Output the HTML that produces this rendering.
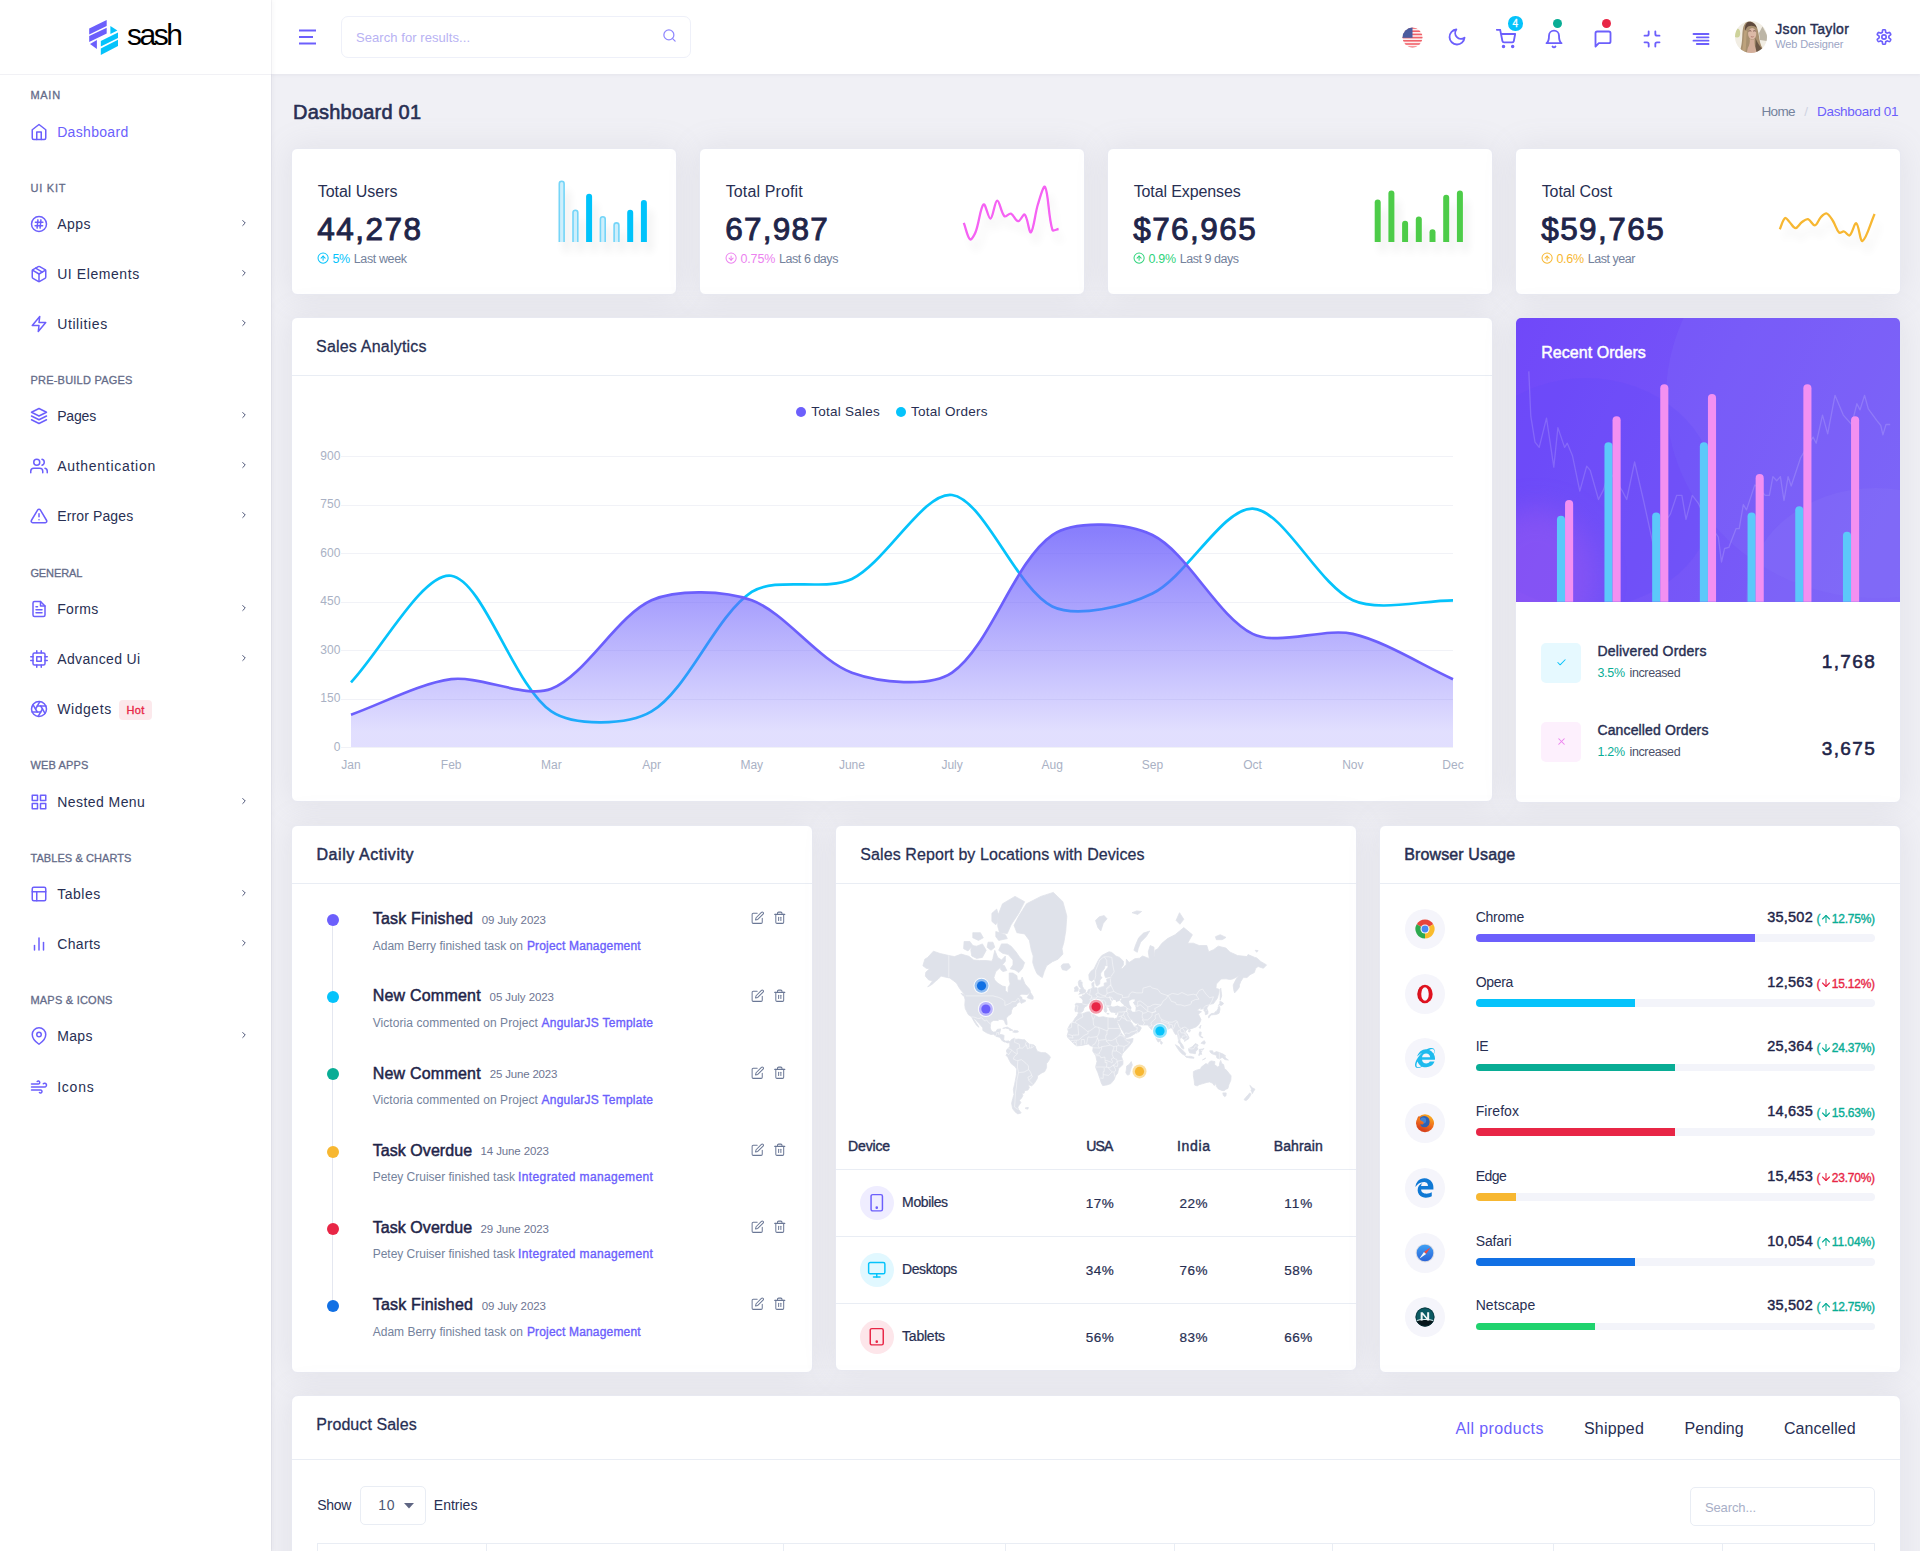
<!DOCTYPE html>
<html lang="en"><head><meta charset="utf-8"><title>Sash – Dashboard 01</title>
<style>
*{box-sizing:border-box;margin:0;padding:0}
html,body{width:1920px;height:1551px;overflow:hidden}
body{font-family:"Liberation Sans",sans-serif;background:#f0f0f5;color:#282f53;position:relative;font-size:14px}
div,svg{position:absolute}
.card{background:#fff;border:1px solid #e8e9f1;border-radius:6px;box-shadow:0 0 32px 0 rgba(140,142,162,.15)}
.hl{background:#e9edf4;height:1px}
#root{left:0;top:0;width:1920px;height:1551px;overflow:hidden;background:#f0f0f5}
</style></head><body><div id="root">

<!-- cards -->
<svg width="0" height="0" style="left:0;top:0"><defs><filter id="ds" x="-30%" y="-30%" width="170%" height="190%"><feGaussianBlur in="SourceAlpha" stdDeviation="4.5"/><feOffset dx="5" dy="10"/><feComponentTransfer><feFuncA type="linear" slope="0.07"/></feComponentTransfer><feMerge><feMergeNode/><feMergeNode in="SourceGraphic"/></feMerge></filter></defs></svg>
<div class="card" style="left:291px;top:148px;width:386px;height:147px;"></div>
<div class="card" style="left:699px;top:148px;width:386px;height:147px;"></div>
<div class="card" style="left:1107px;top:148px;width:386px;height:147px;"></div>
<div class="card" style="left:1515px;top:148px;width:386px;height:147px;"></div>
<div style="left:317.70px;top:181.00px;font-size:16px;line-height:22px;color:#282f53;font-weight:400;white-space:nowrap;letter-spacing:-0.023px;">Total Users</div>
<div style="left:317.20px;top:207.00px;font-size:31.5px;line-height:44px;color:#1f2549;font-weight:400;white-space:nowrap;letter-spacing:1.491px;-webkit-text-stroke:0.94px #1f2549;">44,278</div>
<svg style="position:absolute;left:316.90px;top:252.20px;" width="12.2" height="12.2" viewBox="0 0 24 24" fill="none" stroke="#05c3fb" stroke-width="2" stroke-linecap="round" stroke-linejoin="round"><circle cx="12" cy="12" r="10"/><polyline points="16 12 12 8 8 12"/><line x1="12" y1="16" x2="12" y2="8"/></svg>
<div style="left:332.50px;top:250.00px;font-size:12.5px;line-height:18px;color:#05c3fb;font-weight:400;white-space:nowrap;letter-spacing:-0.562px;">5%</div>
<div style="left:353.80px;top:250.00px;font-size:12.5px;line-height:18px;color:#74829c;font-weight:400;white-space:nowrap;letter-spacing:-0.389px;">Last week</div>
<div style="left:725.70px;top:181.00px;font-size:16px;line-height:22px;color:#282f53;font-weight:400;white-space:nowrap;letter-spacing:0.128px;">Total Profit</div>
<div style="left:725.20px;top:207.00px;font-size:31.5px;line-height:44px;color:#1f2549;font-weight:400;white-space:nowrap;letter-spacing:1.271px;-webkit-text-stroke:0.94px #1f2549;">67,987</div>
<svg style="position:absolute;left:724.90px;top:252.20px;" width="12.2" height="12.2" viewBox="0 0 24 24" fill="none" stroke="#ec82ef" stroke-width="2" stroke-linecap="round" stroke-linejoin="round"><circle cx="12" cy="12" r="10"/><polyline points="8 12 12 16 16 12"/><line x1="12" y1="8" x2="12" y2="16"/></svg>
<div style="left:740.50px;top:250.00px;font-size:12.5px;line-height:18px;color:#ec82ef;font-weight:400;white-space:nowrap;letter-spacing:-0.159px;">0.75%</div>
<div style="left:779.10px;top:250.00px;font-size:12.5px;line-height:18px;color:#74829c;font-weight:400;white-space:nowrap;letter-spacing:-0.462px;">Last 6 days</div>
<div style="left:1133.70px;top:181.00px;font-size:16px;line-height:22px;color:#282f53;font-weight:400;white-space:nowrap;letter-spacing:-0.117px;">Total Expenses</div>
<div style="left:1133.20px;top:207.00px;font-size:31.5px;line-height:44px;color:#1f2549;font-weight:400;white-space:nowrap;letter-spacing:1.440px;-webkit-text-stroke:0.94px #1f2549;">$76,965</div>
<svg style="position:absolute;left:1132.90px;top:252.20px;" width="12.2" height="12.2" viewBox="0 0 24 24" fill="none" stroke="#2fd37b" stroke-width="2" stroke-linecap="round" stroke-linejoin="round"><circle cx="12" cy="12" r="10"/><polyline points="16 12 12 8 8 12"/><line x1="12" y1="16" x2="12" y2="8"/></svg>
<div style="left:1148.50px;top:250.00px;font-size:12.5px;line-height:18px;color:#2fd37b;font-weight:400;white-space:nowrap;letter-spacing:-0.328px;">0.9%</div>
<div style="left:1179.80px;top:250.00px;font-size:12.5px;line-height:18px;color:#74829c;font-weight:400;white-space:nowrap;letter-spacing:-0.462px;">Last 9 days</div>
<div style="left:1541.70px;top:181.00px;font-size:16px;line-height:22px;color:#282f53;font-weight:400;white-space:nowrap;letter-spacing:-0.082px;">Total Cost</div>
<div style="left:1541.20px;top:207.00px;font-size:31.5px;line-height:44px;color:#1f2549;font-weight:400;white-space:nowrap;letter-spacing:1.440px;-webkit-text-stroke:0.94px #1f2549;">$59,765</div>
<svg style="position:absolute;left:1540.90px;top:252.20px;" width="12.2" height="12.2" viewBox="0 0 24 24" fill="none" stroke="#f7b731" stroke-width="2" stroke-linecap="round" stroke-linejoin="round"><circle cx="12" cy="12" r="10"/><polyline points="16 12 12 8 8 12"/><line x1="12" y1="16" x2="12" y2="8"/></svg>
<div style="left:1556.50px;top:250.00px;font-size:12.5px;line-height:18px;color:#f7b731;font-weight:400;white-space:nowrap;letter-spacing:-0.328px;">0.6%</div>
<div style="left:1587.80px;top:250.00px;font-size:12.5px;line-height:18px;color:#74829c;font-weight:400;white-space:nowrap;letter-spacing:-0.490px;">Last year</div>
<svg style="left:0;top:0;overflow:visible" width="1920" height="320" viewBox="0 0 1920 320"><g filter="url(#ds)"><path d="M559.30 242.00 v-58.30 a2.4 2.4 0 0 1 4.8 0 v58.30" fill="#cdeffc" stroke="#74d5f8" stroke-width="1.6"/><path d="M573.00 242.00 v-29.40 a2.4 2.4 0 0 1 4.8 0 v29.40" fill="#cdeffc" stroke="#74d5f8" stroke-width="1.6"/><path d="M586.10 242.00 v-45.20 a3 3 0 0 1 6 0 v45.20 z" fill="#05c3fb"/><path d="M600.40 242.00 v-22.90 a2.4 2.4 0 0 1 4.8 0 v22.90" fill="#cdeffc" stroke="#74d5f8" stroke-width="1.6"/><path d="M614.10 242.00 v-16.70 a2.4 2.4 0 0 1 4.8 0 v16.70" fill="#cdeffc" stroke="#74d5f8" stroke-width="1.6"/><path d="M627.20 242.00 v-29.20 a3 3 0 0 1 6 0 v29.20 z" fill="#05c3fb"/><path d="M640.90 242.00 v-39.00 a3 3 0 0 1 6 0 v39.00 z" fill="#05c3fb"/></g><g filter="url(#ds)"><path d="M1374.70 242.00 v-39.60 a3 3 0 0 1 6 0 v39.60 z" fill="#4ecc48"/><path d="M1388.40 242.00 v-48.40 a3 3 0 0 1 6 0 v48.40 z" fill="#4ecc48"/><path d="M1402.10 242.00 v-18.20 a3 3 0 0 1 6 0 v18.20 z" fill="#4ecc48"/><path d="M1415.80 242.00 v-22.50 a3 3 0 0 1 6 0 v22.50 z" fill="#4ecc48"/><path d="M1429.50 242.00 v-9.80 a3 3 0 0 1 6 0 v9.80 z" fill="#4ecc48"/><path d="M1443.20 242.00 v-44.20 a3 3 0 0 1 6 0 v44.20 z" fill="#4ecc48"/><path d="M1456.90 242.00 v-48.40 a3 3 0 0 1 6 0 v48.40 z" fill="#4ecc48"/></g><path filter="url(#ds)" d="M963.80 222.90 C966.00 228.68 967.39 237.31 970.10 239.40 C971.52 240.49 974.45 234.98 975.60 232.00 C979.18 222.73 980.23 207.43 983.60 204.40 C985.45 202.74 988.35 219.20 990.50 218.60 C993.11 217.87 994.62 201.02 997.20 200.60 C999.52 200.22 1001.08 213.05 1004.50 216.30 C1005.87 217.60 1009.01 212.91 1010.90 213.60 C1013.73 214.63 1015.45 221.00 1018.00 221.20 C1020.28 221.38 1023.19 213.40 1024.70 214.70 C1027.71 217.29 1029.08 233.76 1030.90 232.30 C1033.74 230.02 1034.95 213.72 1038.00 204.00 C1039.92 197.86 1043.60 184.31 1045.10 187.00 C1048.64 193.34 1048.27 216.95 1052.40 229.80 C1052.99 231.65 1056.43 229.28 1058.60 229.00" fill="none" stroke="#f562f3" stroke-width="2.3" stroke-linecap="butt" stroke-linejoin="round"/><path filter="url(#ds)" d="M1779.80 229.20 C1781.62 225.31 1782.72 219.80 1785.00 218.10 C1786.11 217.28 1787.99 220.56 1789.50 222.00 C1791.67 224.06 1793.36 228.05 1795.50 228.10 C1797.63 228.15 1799.31 224.00 1801.70 222.30 C1803.68 220.89 1806.02 218.73 1808.00 219.20 C1810.60 219.82 1812.67 225.76 1814.80 225.40 C1817.22 224.99 1818.46 219.54 1821.00 217.00 C1822.63 215.37 1825.00 212.93 1826.70 213.50 C1829.20 214.33 1831.14 218.14 1833.00 221.00 C1835.51 224.86 1836.40 230.02 1839.20 232.70 C1840.25 233.70 1842.47 231.10 1844.00 231.50 C1846.11 232.05 1848.18 236.35 1849.60 235.40 C1852.48 233.48 1854.38 222.47 1856.30 223.30 C1858.90 224.43 1860.02 242.26 1862.50 241.00 C1866.42 239.01 1870.37 223.45 1874.60 214.00" fill="none" stroke="#f7b731" stroke-width="2.3" stroke-linecap="butt" stroke-linejoin="round"/></svg>
<div style="left:293.00px;top:98.00px;font-size:20px;line-height:28px;color:#282f53;font-weight:400;white-space:nowrap;letter-spacing:0.214px;-webkit-text-stroke:0.60px #282f53;">Dashboard 01</div>
<div style="left:1761.50px;top:102.00px;font-size:13.5px;line-height:19px;color:#74829c;font-weight:400;white-space:nowrap;letter-spacing:-0.672px;">Home</div>
<div style="left:1804.30px;top:102.00px;font-size:13.5px;line-height:19px;color:#cfd3e2;font-weight:400;white-space:nowrap;">/</div>
<div style="left:1817.00px;top:102.00px;font-size:13.5px;line-height:19px;color:#6c5ffc;font-weight:400;white-space:nowrap;letter-spacing:-0.301px;">Dashboard 01</div>
<!-- chart -->
<div class="card" style="left:291px;top:317px;width:1202px;height:485px;"></div>
<div style="left:316.00px;top:336.00px;font-size:16px;line-height:22px;color:#282f53;font-weight:400;white-space:nowrap;letter-spacing:0.206px;-webkit-text-stroke:0.26px #282f53;">Sales Analytics</div>
<div style="position:absolute;left:292px;top:375px;width:1200px;height:1px;background:#e9edf4"></div>
<div style="position:absolute;left:795.5px;top:406.5px;width:10px;height:10px;background:#6c5ffc;border-radius:50%"></div>
<div style="left:811.30px;top:402.00px;font-size:13.5px;line-height:19px;color:#282f53;font-weight:400;white-space:nowrap;letter-spacing:0.247px;">Total Sales</div>
<div style="position:absolute;left:896px;top:406.5px;width:10px;height:10px;background:#05c3fb;border-radius:50%"></div>
<div style="left:911.00px;top:402.00px;font-size:13.5px;line-height:19px;color:#282f53;font-weight:400;white-space:nowrap;letter-spacing:0.270px;">Total Orders</div>
<svg style="left:0;top:0" width="1920" height="810" viewBox="0 0 1920 810"><defs><linearGradient id="sg" gradientUnits="userSpaceOnUse" x1="0" y1="532" x2="0" y2="732"><stop offset="0" stop-color="#6c5ffc" stop-opacity="0.8"/><stop offset="1" stop-color="#6c5ffc" stop-opacity="0.2"/></linearGradient></defs><line x1="341" y1="747.5" x2="1453" y2="747.5" stroke="#f1f2f7" stroke-width="1"/><line x1="341" y1="699.5" x2="1453" y2="699.5" stroke="#f1f2f7" stroke-width="1"/><line x1="341" y1="650.5" x2="1453" y2="650.5" stroke="#f1f2f7" stroke-width="1"/><line x1="341" y1="602.5" x2="1453" y2="602.5" stroke="#f1f2f7" stroke-width="1"/><line x1="341" y1="553.5" x2="1453" y2="553.5" stroke="#f1f2f7" stroke-width="1"/><line x1="341" y1="505.5" x2="1453" y2="505.5" stroke="#f1f2f7" stroke-width="1"/><line x1="341" y1="456.5" x2="1453" y2="456.5" stroke="#f1f2f7" stroke-width="1"/><path d="M351.00 682.38 C381.05 650.39 423.26 571.70 451.18 575.75 C483.37 580.42 513.65 685.92 551.36 711.46 C573.76 726.63 628.04 725.48 651.55 711.46 C688.15 689.62 715.24 616.03 751.73 591.91 C775.35 576.29 825.71 591.66 851.91 578.98 C885.82 562.58 924.09 491.13 952.09 494.97 C984.19 499.37 1016.36 588.79 1052.27 606.45 C1076.47 618.35 1126.33 606.29 1152.45 593.52 C1186.44 576.92 1223.09 507.54 1252.64 508.54 C1283.20 509.58 1318.22 584.46 1352.82 600.31 C1378.33 611.99 1422.95 600.31 1453.00 600.31" fill="none" stroke="#05c3fb" stroke-width="2.7" stroke-linejoin="round"/><path d="M351.00 714.69 C381.05 704.03 420.31 683.13 451.18 679.15 C480.42 675.38 525.55 699.00 551.36 688.84 C585.66 675.35 617.18 615.49 651.55 600.31 C677.29 588.93 724.82 590.59 751.73 600.31 C784.93 612.30 818.71 660.69 851.91 672.68 C878.82 682.41 929.82 687.98 952.09 672.68 C989.93 646.69 1014.43 561.04 1052.27 535.04 C1074.54 519.74 1127.46 522.71 1152.45 535.04 C1187.57 552.37 1217.52 616.58 1252.64 633.91 C1277.63 646.24 1324.16 627.44 1352.82 633.91 C1384.27 641.01 1422.95 665.58 1453.00 679.15 L1453.00 747.00 L351.00 747.00 Z" fill="url(#sg)"/><path d="M351.00 714.69 C381.05 704.03 420.31 683.13 451.18 679.15 C480.42 675.38 525.55 699.00 551.36 688.84 C585.66 675.35 617.18 615.49 651.55 600.31 C677.29 588.93 724.82 590.59 751.73 600.31 C784.93 612.30 818.71 660.69 851.91 672.68 C878.82 682.41 929.82 687.98 952.09 672.68 C989.93 646.69 1014.43 561.04 1052.27 535.04 C1074.54 519.74 1127.46 522.71 1152.45 535.04 C1187.57 552.37 1217.52 616.58 1252.64 633.91 C1277.63 646.24 1324.16 627.44 1352.82 633.91 C1384.27 641.01 1422.95 665.58 1453.00 679.15" fill="none" stroke="#6c5ffc" stroke-width="2.7" stroke-linejoin="round"/></svg>
<div style="right:1579.70px;top:739.00px;font-size:12px;line-height:17px;color:#a9b1c4;font-weight:400;white-space:nowrap;">0</div>
<div style="right:1579.70px;top:690.00px;font-size:12px;line-height:17px;color:#a9b1c4;font-weight:400;white-space:nowrap;">150</div>
<div style="right:1579.70px;top:642.00px;font-size:12px;line-height:17px;color:#a9b1c4;font-weight:400;white-space:nowrap;">300</div>
<div style="right:1579.70px;top:593.00px;font-size:12px;line-height:17px;color:#a9b1c4;font-weight:400;white-space:nowrap;">450</div>
<div style="right:1579.70px;top:545.00px;font-size:12px;line-height:17px;color:#a9b1c4;font-weight:400;white-space:nowrap;">600</div>
<div style="right:1579.70px;top:496.00px;font-size:12px;line-height:17px;color:#a9b1c4;font-weight:400;white-space:nowrap;">750</div>
<div style="right:1579.70px;top:448.00px;font-size:12px;line-height:17px;color:#a9b1c4;font-weight:400;white-space:nowrap;">900</div>
<div style="left:351.00px;transform:translateX(-50%);top:757.00px;font-size:12px;line-height:17px;color:#a9b1c4;font-weight:400;white-space:nowrap;">Jan</div>
<div style="left:451.18px;transform:translateX(-50%);top:757.00px;font-size:12px;line-height:17px;color:#a9b1c4;font-weight:400;white-space:nowrap;">Feb</div>
<div style="left:551.36px;transform:translateX(-50%);top:757.00px;font-size:12px;line-height:17px;color:#a9b1c4;font-weight:400;white-space:nowrap;">Mar</div>
<div style="left:651.55px;transform:translateX(-50%);top:757.00px;font-size:12px;line-height:17px;color:#a9b1c4;font-weight:400;white-space:nowrap;">Apr</div>
<div style="left:751.73px;transform:translateX(-50%);top:757.00px;font-size:12px;line-height:17px;color:#a9b1c4;font-weight:400;white-space:nowrap;">May</div>
<div style="left:851.91px;transform:translateX(-50%);top:757.00px;font-size:12px;line-height:17px;color:#a9b1c4;font-weight:400;white-space:nowrap;">June</div>
<div style="left:952.09px;transform:translateX(-50%);top:757.00px;font-size:12px;line-height:17px;color:#a9b1c4;font-weight:400;white-space:nowrap;">July</div>
<div style="left:1052.27px;transform:translateX(-50%);top:757.00px;font-size:12px;line-height:17px;color:#a9b1c4;font-weight:400;white-space:nowrap;">Aug</div>
<div style="left:1152.45px;transform:translateX(-50%);top:757.00px;font-size:12px;line-height:17px;color:#a9b1c4;font-weight:400;white-space:nowrap;">Sep</div>
<div style="left:1252.64px;transform:translateX(-50%);top:757.00px;font-size:12px;line-height:17px;color:#a9b1c4;font-weight:400;white-space:nowrap;">Oct</div>
<div style="left:1352.82px;transform:translateX(-50%);top:757.00px;font-size:12px;line-height:17px;color:#a9b1c4;font-weight:400;white-space:nowrap;">Nov</div>
<div style="left:1453.00px;transform:translateX(-50%);top:757.00px;font-size:12px;line-height:17px;color:#a9b1c4;font-weight:400;white-space:nowrap;">Dec</div>
<!-- recent -->
<div class="card" style="left:1515px;top:317px;width:386px;height:486px;"></div>
<div style="left:1516px;top:318px;width:384px;height:284px;border-radius:5px 5px 0 0;overflow:hidden;background:linear-gradient(115deg,#7048f9 0%,#7554f8 45%,#7b62f7 100%)"><div style="left:150px;top:-120px;width:420px;height:400px;border-radius:50%;background:rgba(134,118,250,.20)"></div><div style="left:-60px;top:60px;width:260px;height:230px;border-radius:50%;background:rgba(96,72,250,.24)"></div><div style="left:-40px;top:190px;width:120px;height:140px;border-radius:50%;background:rgba(160,90,240,.45);filter:blur(14px)"></div><div style="left:230px;top:170px;width:260px;height:220px;border-radius:50%;background:rgba(140,120,248,.25)"></div></div>
<div style="left:1541.20px;top:342.00px;font-size:16px;line-height:22px;color:#fff;font-weight:400;white-space:nowrap;letter-spacing:0.046px;-webkit-text-stroke:0.48px #fff;">Recent Orders</div>
<svg style="left:0;top:0" width="1920" height="610" viewBox="0 0 1920 610"><polyline points="1528.8,371.4 1530.8,416.2 1535.0,442.2 1539.2,447.4 1546.5,418.2 1553.8,467.2 1557.9,427.6 1564.6,447.4 1567.3,443.2 1572.5,455.8 1579.8,491.2 1586.7,466.2 1590.2,470.3 1598.5,499.5 1603.8,489.1 1609.0,470.0 1615.0,480.0 1622.5,491.2 1626.7,499.5 1634.6,462.0 1643.3,499.5 1653.8,547.4 1659.0,530.0 1665.0,522.0 1670.4,514.1 1676.7,495.3 1681.9,495.3 1686.0,519.3 1692.3,495.3 1698.5,503.7 1706.0,520.0 1712.0,528.0 1718.3,537.0 1721.5,562.0 1724.6,548.5 1728.8,547.4 1736.0,528.7 1739.2,528.7 1743.3,504.7 1746.5,509.9 1754.8,484.9 1760.0,490.0 1765.2,495.3 1769.4,495.3 1772.9,476.6 1776.7,480.8 1780.4,476.6 1784.0,500.5 1788.1,476.6 1791.2,486.0 1800.6,457.8 1807.0,447.0 1813.1,437.0 1816.2,443.2 1822.5,415.1 1827.7,433.9 1835.0,395.3 1843.3,415.1 1851.7,424.5 1856.9,403.7 1860.0,409.9 1864.6,395.3 1868.3,408.9 1876.7,420.3 1880.8,425.5 1882.9,434.9 1886.0,424.5 1890.2,424.5" fill="none" stroke="#fff" stroke-opacity="0.16" stroke-width="1.3" stroke-linejoin="round"/><path d="M1556.95 601.7 V519.80 a4.05 4.05 0 0 1 8.1 0 V601.7 z" fill="#5cc8fa"/><path d="M1565.05 601.7 V504.05 a4.05 4.05 0 0 1 8.1 0 V601.7 z" fill="#f390f1"/><path d="M1604.45 601.7 V446.25 a4.05 4.05 0 0 1 8.1 0 V601.7 z" fill="#5cc8fa"/><path d="M1612.55 601.7 V420.25 a4.05 4.05 0 0 1 8.1 0 V601.7 z" fill="#f390f1"/><path d="M1652.15 601.7 V516.45 a4.05 4.05 0 0 1 8.1 0 V601.7 z" fill="#5cc8fa"/><path d="M1660.25 601.7 V388.35 a4.05 4.05 0 0 1 8.1 0 V601.7 z" fill="#f390f1"/><path d="M1699.85 601.7 V446.25 a4.05 4.05 0 0 1 8.1 0 V601.7 z" fill="#5cc8fa"/><path d="M1707.95 601.7 V397.95 a4.05 4.05 0 0 1 8.1 0 V601.7 z" fill="#f390f1"/><path d="M1747.55 601.7 V516.45 a4.05 4.05 0 0 1 8.1 0 V601.7 z" fill="#5cc8fa"/><path d="M1755.65 601.7 V478.15 a4.05 4.05 0 0 1 8.1 0 V601.7 z" fill="#f390f1"/><path d="M1795.25 601.7 V510.25 a4.05 4.05 0 0 1 8.1 0 V601.7 z" fill="#5cc8fa"/><path d="M1803.35 601.7 V388.35 a4.05 4.05 0 0 1 8.1 0 V601.7 z" fill="#f390f1"/><path d="M1842.95 601.7 V535.85 a4.05 4.05 0 0 1 8.1 0 V601.7 z" fill="#5cc8fa"/><path d="M1851.05 601.7 V420.25 a4.05 4.05 0 0 1 8.1 0 V601.7 z" fill="#f390f1"/></svg>
<div style="position:absolute;left:1541px;top:643px;width:40px;height:40px;background:#e6f9ff;border-radius:5px"></div>
<svg style="position:absolute;left:1555.50px;top:657.00px;" width="11" height="11" viewBox="0 0 24 24" fill="none" stroke="#05c3fb" stroke-width="2.2" stroke-linecap="round" stroke-linejoin="round"><polyline points="20 6 9 17 4 12"/></svg>
<div style="left:1597.40px;top:641.00px;font-size:14px;line-height:20px;color:#282f53;font-weight:400;white-space:nowrap;letter-spacing:0.212px;-webkit-text-stroke:0.42px #282f53;">Delivered Orders</div>
<div style="left:1597.40px;top:664.00px;font-size:12.5px;line-height:18px;color:#09ad95;font-weight:400;white-space:nowrap;letter-spacing:-0.295px;">3.5%</div>
<div style="left:1629.60px;top:664.00px;font-size:12.5px;line-height:18px;color:#4b5069;font-weight:400;white-space:nowrap;letter-spacing:-0.400px;">increased</div>
<div style="right:43.84px;top:648.00px;font-size:19px;line-height:27px;color:#1f2549;font-weight:400;white-space:nowrap;letter-spacing:1.363px;-webkit-text-stroke:0.57px #1f2549;">1,768</div>
<div style="position:absolute;left:1541px;top:722px;width:40px;height:40px;background:#fdf0fd;border-radius:5px"></div>
<svg style="position:absolute;left:1555.50px;top:736.00px;" width="11" height="11" viewBox="0 0 24 24" fill="none" stroke="#ec82ef" stroke-width="2.2" stroke-linecap="round" stroke-linejoin="round"><line x1="18" y1="6" x2="6" y2="18"/><line x1="6" y1="6" x2="18" y2="18"/></svg>
<div style="left:1597.40px;top:720.00px;font-size:14px;line-height:20px;color:#282f53;font-weight:400;white-space:nowrap;letter-spacing:0.138px;-webkit-text-stroke:0.42px #282f53;">Cancelled Orders</div>
<div style="left:1597.40px;top:743.00px;font-size:12.5px;line-height:18px;color:#09ad95;font-weight:400;white-space:nowrap;letter-spacing:-0.295px;">1.2%</div>
<div style="left:1629.60px;top:743.00px;font-size:12.5px;line-height:18px;color:#4b5069;font-weight:400;white-space:nowrap;letter-spacing:-0.400px;">increased</div>
<div style="right:43.84px;top:735.00px;font-size:19px;line-height:27px;color:#1f2549;font-weight:400;white-space:nowrap;letter-spacing:1.363px;-webkit-text-stroke:0.57px #1f2549;">3,675</div>
<!-- activity -->
<div class="card" style="left:291px;top:825px;width:522px;height:548px;"></div>
<div style="left:316.50px;top:844.00px;font-size:16px;line-height:22px;color:#282f53;font-weight:400;white-space:nowrap;letter-spacing:0.554px;-webkit-text-stroke:0.48px #282f53;">Daily Activity</div>
<div style="position:absolute;left:292px;top:883px;width:520px;height:1px;background:#e9edf4"></div>
<div style="position:absolute;left:332.3px;top:920px;width:1px;height:386px;background:#e4e7f0"></div>
<div style="position:absolute;left:326.9px;top:914px;width:12px;height:12px;background:#6c5ffc;border-radius:50%"></div>
<div style="left:372.70px;top:908.00px;font-size:16px;line-height:22px;color:#1f2549;font-weight:400;white-space:nowrap;letter-spacing:0.198px;-webkit-text-stroke:0.48px #1f2549;">Task Finished</div>
<div style="left:481.70px;top:912.00px;font-size:11.5px;line-height:16px;color:#6e7592;font-weight:400;white-space:nowrap;letter-spacing:-0.093px;">09 July 2023</div>
<div style="left:372.70px;top:938.00px;font-size:12px;line-height:17px;color:#74829c;font-weight:400;white-space:nowrap;letter-spacing:0.005px;">Adam Berry finished task on</div>
<div style="left:526.90px;top:938.00px;font-size:12px;line-height:17px;color:#6c5ffc;font-weight:400;white-space:nowrap;letter-spacing:0.175px;-webkit-text-stroke:0.36px #6c5ffc;">Project Management</div>
<svg style="position:absolute;left:750.85px;top:911.45px;" width="13.5" height="13.5" viewBox="0 0 24 24" fill="none" stroke="#6b7896" stroke-width="1.8" stroke-linecap="round" stroke-linejoin="round"><path d="M11 4H4a2 2 0 0 0-2 2v14a2 2 0 0 0 2 2h14a2 2 0 0 0 2-2v-7"/><path d="M18.5 2.5a2.121 2.121 0 0 1 3 3L12 15l-4 1 1-4 9.5-9.5z"/></svg>
<svg style="position:absolute;left:773.05px;top:911.45px;" width="13.5" height="13.5" viewBox="0 0 24 24" fill="none" stroke="#6b7896" stroke-width="1.8" stroke-linecap="round" stroke-linejoin="round"><polyline points="3 6 5 6 21 6"/><path d="M19 6v14a2 2 0 0 1-2 2H7a2 2 0 0 1-2-2V6m3 0V4a2 2 0 0 1 2-2h4a2 2 0 0 1 2 2v2"/><line x1="10" y1="11" x2="10" y2="17"/><line x1="14" y1="11" x2="14" y2="17"/></svg>
<div style="position:absolute;left:326.9px;top:991.2px;width:12px;height:12px;background:#05c3fb;border-radius:50%"></div>
<div style="left:372.70px;top:985.00px;font-size:16px;line-height:22px;color:#1f2549;font-weight:400;white-space:nowrap;letter-spacing:0.209px;-webkit-text-stroke:0.48px #1f2549;">New Comment</div>
<div style="left:489.60px;top:989.00px;font-size:11.5px;line-height:16px;color:#6e7592;font-weight:400;white-space:nowrap;letter-spacing:-0.074px;">05 July 2023</div>
<div style="left:372.70px;top:1015.00px;font-size:12px;line-height:17px;color:#74829c;font-weight:400;white-space:nowrap;letter-spacing:0.072px;">Victoria commented on Project</div>
<div style="left:541.50px;top:1015.00px;font-size:12px;line-height:17px;color:#6c5ffc;font-weight:400;white-space:nowrap;letter-spacing:0.249px;-webkit-text-stroke:0.36px #6c5ffc;">AngularJS Template</div>
<svg style="position:absolute;left:750.85px;top:988.65px;" width="13.5" height="13.5" viewBox="0 0 24 24" fill="none" stroke="#6b7896" stroke-width="1.8" stroke-linecap="round" stroke-linejoin="round"><path d="M11 4H4a2 2 0 0 0-2 2v14a2 2 0 0 0 2 2h14a2 2 0 0 0 2-2v-7"/><path d="M18.5 2.5a2.121 2.121 0 0 1 3 3L12 15l-4 1 1-4 9.5-9.5z"/></svg>
<svg style="position:absolute;left:773.05px;top:988.65px;" width="13.5" height="13.5" viewBox="0 0 24 24" fill="none" stroke="#6b7896" stroke-width="1.8" stroke-linecap="round" stroke-linejoin="round"><polyline points="3 6 5 6 21 6"/><path d="M19 6v14a2 2 0 0 1-2 2H7a2 2 0 0 1-2-2V6m3 0V4a2 2 0 0 1 2-2h4a2 2 0 0 1 2 2v2"/><line x1="10" y1="11" x2="10" y2="17"/><line x1="14" y1="11" x2="14" y2="17"/></svg>
<div style="position:absolute;left:326.9px;top:1068.4px;width:12px;height:12px;background:#09ad95;border-radius:50%"></div>
<div style="left:372.70px;top:1063.00px;font-size:16px;line-height:22px;color:#1f2549;font-weight:400;white-space:nowrap;letter-spacing:0.209px;-webkit-text-stroke:0.48px #1f2549;">New Comment</div>
<div style="left:489.80px;top:1066.00px;font-size:11.5px;line-height:16px;color:#6e7592;font-weight:400;white-space:nowrap;letter-spacing:-0.191px;">25 June 2023</div>
<div style="left:372.70px;top:1092.00px;font-size:12px;line-height:17px;color:#74829c;font-weight:400;white-space:nowrap;letter-spacing:0.072px;">Victoria commented on Project</div>
<div style="left:541.50px;top:1092.00px;font-size:12px;line-height:17px;color:#6c5ffc;font-weight:400;white-space:nowrap;letter-spacing:0.249px;-webkit-text-stroke:0.36px #6c5ffc;">AngularJS Template</div>
<svg style="position:absolute;left:750.85px;top:1065.85px;" width="13.5" height="13.5" viewBox="0 0 24 24" fill="none" stroke="#6b7896" stroke-width="1.8" stroke-linecap="round" stroke-linejoin="round"><path d="M11 4H4a2 2 0 0 0-2 2v14a2 2 0 0 0 2 2h14a2 2 0 0 0 2-2v-7"/><path d="M18.5 2.5a2.121 2.121 0 0 1 3 3L12 15l-4 1 1-4 9.5-9.5z"/></svg>
<svg style="position:absolute;left:773.05px;top:1065.85px;" width="13.5" height="13.5" viewBox="0 0 24 24" fill="none" stroke="#6b7896" stroke-width="1.8" stroke-linecap="round" stroke-linejoin="round"><polyline points="3 6 5 6 21 6"/><path d="M19 6v14a2 2 0 0 1-2 2H7a2 2 0 0 1-2-2V6m3 0V4a2 2 0 0 1 2-2h4a2 2 0 0 1 2 2v2"/><line x1="10" y1="11" x2="10" y2="17"/><line x1="14" y1="11" x2="14" y2="17"/></svg>
<div style="position:absolute;left:326.9px;top:1145.6px;width:12px;height:12px;background:#f7b731;border-radius:50%"></div>
<div style="left:372.70px;top:1140.00px;font-size:16px;line-height:22px;color:#1f2549;font-weight:400;white-space:nowrap;letter-spacing:0.062px;-webkit-text-stroke:0.48px #1f2549;">Task Overdue</div>
<div style="left:480.60px;top:1143.00px;font-size:11.5px;line-height:16px;color:#6e7592;font-weight:400;white-space:nowrap;letter-spacing:-0.128px;">14 June 2023</div>
<div style="left:372.70px;top:1169.00px;font-size:12px;line-height:17px;color:#74829c;font-weight:400;white-space:nowrap;letter-spacing:-0.014px;">Petey Cruiser finished task</div>
<div style="left:518.10px;top:1169.00px;font-size:12px;line-height:17px;color:#6c5ffc;font-weight:400;white-space:nowrap;letter-spacing:0.369px;-webkit-text-stroke:0.36px #6c5ffc;">Integrated management</div>
<svg style="position:absolute;left:750.85px;top:1143.05px;" width="13.5" height="13.5" viewBox="0 0 24 24" fill="none" stroke="#6b7896" stroke-width="1.8" stroke-linecap="round" stroke-linejoin="round"><path d="M11 4H4a2 2 0 0 0-2 2v14a2 2 0 0 0 2 2h14a2 2 0 0 0 2-2v-7"/><path d="M18.5 2.5a2.121 2.121 0 0 1 3 3L12 15l-4 1 1-4 9.5-9.5z"/></svg>
<svg style="position:absolute;left:773.05px;top:1143.05px;" width="13.5" height="13.5" viewBox="0 0 24 24" fill="none" stroke="#6b7896" stroke-width="1.8" stroke-linecap="round" stroke-linejoin="round"><polyline points="3 6 5 6 21 6"/><path d="M19 6v14a2 2 0 0 1-2 2H7a2 2 0 0 1-2-2V6m3 0V4a2 2 0 0 1 2-2h4a2 2 0 0 1 2 2v2"/><line x1="10" y1="11" x2="10" y2="17"/><line x1="14" y1="11" x2="14" y2="17"/></svg>
<div style="position:absolute;left:326.9px;top:1222.8px;width:12px;height:12px;background:#e82646;border-radius:50%"></div>
<div style="left:372.70px;top:1217.00px;font-size:16px;line-height:22px;color:#1f2549;font-weight:400;white-space:nowrap;letter-spacing:0.062px;-webkit-text-stroke:0.48px #1f2549;">Task Overdue</div>
<div style="left:480.60px;top:1221.00px;font-size:11.5px;line-height:16px;color:#6e7592;font-weight:400;white-space:nowrap;letter-spacing:-0.128px;">29 June 2023</div>
<div style="left:372.70px;top:1246.00px;font-size:12px;line-height:17px;color:#74829c;font-weight:400;white-space:nowrap;letter-spacing:-0.014px;">Petey Cruiser finished task</div>
<div style="left:518.10px;top:1246.00px;font-size:12px;line-height:17px;color:#6c5ffc;font-weight:400;white-space:nowrap;letter-spacing:0.369px;-webkit-text-stroke:0.36px #6c5ffc;">Integrated management</div>
<svg style="position:absolute;left:750.85px;top:1220.25px;" width="13.5" height="13.5" viewBox="0 0 24 24" fill="none" stroke="#6b7896" stroke-width="1.8" stroke-linecap="round" stroke-linejoin="round"><path d="M11 4H4a2 2 0 0 0-2 2v14a2 2 0 0 0 2 2h14a2 2 0 0 0 2-2v-7"/><path d="M18.5 2.5a2.121 2.121 0 0 1 3 3L12 15l-4 1 1-4 9.5-9.5z"/></svg>
<svg style="position:absolute;left:773.05px;top:1220.25px;" width="13.5" height="13.5" viewBox="0 0 24 24" fill="none" stroke="#6b7896" stroke-width="1.8" stroke-linecap="round" stroke-linejoin="round"><polyline points="3 6 5 6 21 6"/><path d="M19 6v14a2 2 0 0 1-2 2H7a2 2 0 0 1-2-2V6m3 0V4a2 2 0 0 1 2-2h4a2 2 0 0 1 2 2v2"/><line x1="10" y1="11" x2="10" y2="17"/><line x1="14" y1="11" x2="14" y2="17"/></svg>
<div style="position:absolute;left:326.9px;top:1300px;width:12px;height:12px;background:#1170e4;border-radius:50%"></div>
<div style="left:372.70px;top:1294.00px;font-size:16px;line-height:22px;color:#1f2549;font-weight:400;white-space:nowrap;letter-spacing:0.198px;-webkit-text-stroke:0.48px #1f2549;">Task Finished</div>
<div style="left:481.70px;top:1298.00px;font-size:11.5px;line-height:16px;color:#6e7592;font-weight:400;white-space:nowrap;letter-spacing:-0.093px;">09 July 2023</div>
<div style="left:372.70px;top:1324.00px;font-size:12px;line-height:17px;color:#74829c;font-weight:400;white-space:nowrap;letter-spacing:0.005px;">Adam Berry finished task on</div>
<div style="left:526.90px;top:1324.00px;font-size:12px;line-height:17px;color:#6c5ffc;font-weight:400;white-space:nowrap;letter-spacing:0.175px;-webkit-text-stroke:0.36px #6c5ffc;">Project Management</div>
<svg style="position:absolute;left:750.85px;top:1297.45px;" width="13.5" height="13.5" viewBox="0 0 24 24" fill="none" stroke="#6b7896" stroke-width="1.8" stroke-linecap="round" stroke-linejoin="round"><path d="M11 4H4a2 2 0 0 0-2 2v14a2 2 0 0 0 2 2h14a2 2 0 0 0 2-2v-7"/><path d="M18.5 2.5a2.121 2.121 0 0 1 3 3L12 15l-4 1 1-4 9.5-9.5z"/></svg>
<svg style="position:absolute;left:773.05px;top:1297.45px;" width="13.5" height="13.5" viewBox="0 0 24 24" fill="none" stroke="#6b7896" stroke-width="1.8" stroke-linecap="round" stroke-linejoin="round"><polyline points="3 6 5 6 21 6"/><path d="M19 6v14a2 2 0 0 1-2 2H7a2 2 0 0 1-2-2V6m3 0V4a2 2 0 0 1 2-2h4a2 2 0 0 1 2 2v2"/><line x1="10" y1="11" x2="10" y2="17"/><line x1="14" y1="11" x2="14" y2="17"/></svg>
<!-- salesmap -->
<div class="card" style="left:835px;top:825px;width:522px;height:546px;"></div>
<div style="left:860.30px;top:844.00px;font-size:16px;line-height:22px;color:#282f53;font-weight:400;white-space:nowrap;letter-spacing:0.088px;-webkit-text-stroke:0.26px #282f53;">Sales Report by Locations with Devices</div>
<div style="position:absolute;left:836px;top:883px;width:520px;height:1px;background:#e9edf4"></div>
<svg style="left:0;top:0" width="1920" height="1130" viewBox="0 0 1920 1130"><path d="M922.9 965.8 L924.8 959.2 L927.7 957.4 L933.4 951.2 L940.1 953.5 L948.8 955.5 L954.5 956.6 L961.2 954.1 L968.9 956.3 L973.7 960.0 L979.5 960.5 L986.2 960.5 L991.9 961.2 L992.9 958.7 L994.8 950.3 L997.7 957.4 L1001.5 960.0 L1005.4 956.0 L1005.4 961.2 L1000.6 967.2 L995.8 971.6 L993.9 977.6 L994.8 980.1 L997.7 983.1 L1002.5 986.1 L1005.4 986.6 L1005.4 990.6 L1007.3 992.5 L1008.2 991.4 L1008.2 987.4 L1010.2 984.0 L1009.2 979.9 L1009.2 973.0 L1013.0 973.0 L1016.9 975.7 L1017.4 979.9 L1020.7 980.4 L1022.2 977.0 L1025.0 984.0 L1029.4 989.0 L1030.5 991.4 L1027.4 994.5 L1021.7 994.2 L1018.8 995.9 L1021.7 997.1 L1022.2 999.5 L1025.5 1000.2 L1025.5 1001.3 L1021.2 1003.4 L1020.2 1001.6 L1016.9 1003.6 L1016.4 1005.9 L1013.0 1007.4 L1011.6 1010.5 L1011.1 1013.9 L1008.7 1015.5 L1006.3 1018.1 L1007.1 1023.1 L1007.0 1024.9 L1005.6 1024.2 L1004.6 1021.5 L1003.5 1019.8 L1001.1 1019.4 L998.2 1019.6 L998.2 1020.7 L996.3 1020.4 L993.4 1020.4 L990.8 1022.2 L990.5 1025.2 L990.2 1028.0 L991.5 1030.9 L993.4 1032.1 L995.8 1031.8 L997.2 1029.4 L1000.6 1028.9 L1000.1 1031.4 L999.1 1034.4 L1001.5 1034.5 L1004.1 1035.4 L1003.7 1039.4 L1004.9 1041.1 L1007.3 1041.1 L1008.2 1040.8 L1009.8 1041.7 L1009.2 1042.8 L1007.1 1042.9 L1005.9 1042.1 L1004.4 1042.0 L1001.8 1040.4 L1000.1 1037.4 L996.3 1036.4 L993.4 1034.2 L991.0 1034.5 L987.1 1033.1 L982.8 1030.4 L982.8 1027.8 L979.2 1023.6 L976.1 1020.4 L974.0 1017.9 L974.2 1019.8 L976.3 1023.1 L978.5 1026.3 L979.0 1027.3 L976.6 1025.4 L974.4 1022.0 L972.8 1019.3 L971.6 1016.8 L968.4 1014.7 L967.0 1012.0 L965.3 1008.7 L964.8 1004.9 L965.1 999.9 L964.5 996.9 L966.0 995.9 L964.1 994.0 L961.2 990.6 L958.8 987.1 L956.5 983.1 L953.1 980.4 L949.7 978.0 L944.9 977.0 L941.1 976.1 L938.2 979.1 L935.8 981.0 L932.0 984.4 L927.7 986.9 L929.6 984.9 L932.5 980.8 L928.6 979.9 L925.3 976.1 L925.8 972.2 L929.6 968.8 L926.2 968.3ZM1007.3 943.9 L1011.1 946.2 L1015.9 951.8 L1019.8 957.4 L1024.6 962.5 L1022.6 968.3 L1018.8 972.6 L1015.0 969.9 L1010.2 968.8 L1013.0 964.9 L1013.0 960.0 L1008.2 954.6 L1002.5 953.2 L998.7 950.3 L1001.5 943.9ZM971.8 945.5 L976.6 946.2 L982.4 943.9 L986.2 950.3 L982.4 957.4 L976.6 958.4 L971.8 956.0 L970.8 950.3ZM964.1 941.5 L969.9 941.5 L972.8 945.5 L968.0 950.9 L963.6 948.7ZM997.7 916.1 L1002.5 903.8 L1015.0 896.4 L1024.6 901.7 L1018.8 913.3 L1011.1 924.8 L1007.3 933.5 L999.6 932.7 L997.7 926.2ZM995.8 931.5 L1005.4 934.7 L1007.3 938.6 L998.7 940.4 L995.8 936.7ZM972.8 932.7 L980.4 932.7 L983.3 937.8 L978.5 940.4 L972.8 937.8ZM991.9 913.3 L996.7 909.1 L999.6 918.8 L995.8 924.8 L991.9 921.4ZM988.1 942.2 L992.9 942.2 L994.8 947.2 L991.0 950.3 L987.1 947.2ZM1000.6 965.4 L1004.4 965.6 L1006.8 970.5 L1003.0 971.6 L1000.6 969.4ZM1027.1 997.7 L1030.3 992.2 L1033.2 996.7 L1033.0 999.2 L1030.3 998.9ZM961.0 993.3 L964.1 994.5 L965.6 996.8 L963.6 996.2ZM1002.7 1028.4 L1007.3 1027.1 L1012.1 1029.8 L1012.9 1030.3 L1009.7 1030.5 L1009.2 1028.9 L1005.4 1028.0ZM1012.7 1031.9 L1014.2 1030.5 L1017.8 1030.8 L1018.4 1032.0 L1015.4 1032.6ZM1014.0 925.3 L1018.8 916.1 L1026.5 903.8 L1040.9 896.4 L1053.3 892.4 L1062.9 901.7 L1066.8 916.1 L1065.8 930.6 L1063.9 942.2 L1062.0 948.7 L1062.9 954.1 L1058.1 959.2 L1052.4 961.7 L1046.6 965.8 L1044.2 971.6 L1042.3 977.6 L1039.9 976.1 L1037.0 973.7 L1034.6 968.3 L1032.7 962.5 L1033.2 956.0 L1031.3 950.3 L1029.4 940.4 L1024.6 933.9 L1016.9 932.7ZM1061.0 966.1 L1062.9 963.9 L1068.7 963.7 L1070.6 967.2 L1066.8 970.5 L1062.4 969.7ZM1009.8 1041.7 L1011.6 1039.5 L1014.5 1038.2 L1015.9 1039.4 L1018.3 1039.1 L1022.6 1039.7 L1024.7 1039.7 L1026.5 1041.8 L1029.4 1044.2 L1033.2 1044.7 L1035.1 1046.0 L1036.1 1049.0 L1037.5 1051.4 L1041.3 1052.6 L1045.7 1052.8 L1048.5 1054.8 L1050.5 1057.2 L1048.5 1061.1 L1046.6 1063.6 L1046.6 1067.6 L1044.7 1071.6 L1041.8 1072.9 L1037.5 1075.8 L1037.3 1078.5 L1034.1 1083.6 L1031.7 1085.8 L1028.0 1084.7 L1029.4 1087.7 L1027.9 1090.1 L1024.6 1090.7 L1024.1 1093.2 L1021.7 1093.2 L1022.9 1095.5 L1021.4 1098.4 L1019.3 1100.2 L1020.9 1102.6 L1017.8 1107.1 L1018.5 1109.4 L1021.2 1112.9 L1017.8 1113.9 L1015.0 1111.8 L1012.6 1108.6 L1011.6 1103.3 L1012.8 1098.4 L1014.0 1094.5 L1013.3 1089.5 L1014.5 1084.7 L1015.4 1080.2 L1016.4 1074.8 L1016.7 1069.1 L1015.0 1066.6 L1011.1 1063.6 L1009.7 1061.1 L1007.8 1057.2 L1006.0 1055.3 L1007.3 1053.2 L1006.3 1051.0 L1007.3 1049.0 L1008.7 1048.1 L1009.9 1046.2 L1009.7 1043.3ZM1078.3 1013.2 L1082.1 1013.9 L1086.9 1012.0 L1093.6 1011.5 L1094.6 1015.3 L1098.9 1017.3 L1103.2 1016.7 L1108.0 1017.9 L1113.8 1018.1 L1115.2 1019.8 L1117.1 1022.5 L1119.5 1028.4 L1121.0 1032.4 L1122.9 1035.4 L1125.5 1037.7 L1126.2 1039.4 L1130.1 1038.9 L1133.1 1038.4 L1132.5 1041.8 L1129.6 1045.7 L1124.8 1051.0 L1122.4 1053.8 L1121.4 1056.7 L1122.9 1060.6 L1122.9 1064.6 L1118.6 1068.6 L1117.6 1073.2 L1115.5 1075.8 L1114.2 1079.6 L1110.9 1083.6 L1107.0 1084.9 L1102.7 1085.6 L1101.3 1083.0 L1099.9 1078.5 L1097.9 1072.7 L1095.5 1067.1 L1097.0 1061.6 L1095.8 1055.8 L1092.7 1051.0 L1093.3 1046.4 L1090.7 1045.9 L1088.3 1043.9 L1082.1 1045.4 L1076.8 1045.9 L1073.5 1043.6 L1071.1 1040.8 L1068.0 1037.9 L1067.2 1035.7 L1068.4 1031.4 L1067.7 1028.9 L1070.1 1024.2 L1073.5 1021.2 L1074.7 1018.7 L1077.3 1015.5ZM1131.3 1061.6 L1132.3 1065.1 L1130.8 1069.1 L1129.3 1074.6 L1127.4 1075.1 L1125.8 1072.7 L1126.4 1069.4 L1126.7 1066.0 L1129.1 1064.6ZM1075.4 1011.7 L1074.9 1009.7 L1075.6 1006.2 L1075.1 1004.2 L1076.4 1003.3 L1082.1 1003.6 L1082.9 1002.2 L1082.9 1000.2 L1081.6 998.4 L1079.5 996.9 L1082.6 996.4 L1082.3 994.9 L1084.2 994.9 L1085.6 993.1 L1087.4 992.3 L1088.3 989.8 L1090.7 989.0 L1092.4 988.2 L1091.9 984.9 L1091.9 983.1 L1094.1 981.9 L1093.8 984.9 L1094.4 988.2 L1096.0 987.6 L1097.6 988.4 L1101.6 986.9 L1104.2 986.6 L1104.2 983.1 L1107.2 982.6 L1106.6 979.0 L1110.9 978.2 L1112.8 977.6 L1109.0 976.9 L1105.6 977.6 L1104.5 974.7 L1104.6 971.6 L1108.0 967.2 L1108.0 965.8 L1105.1 965.4 L1104.5 968.3 L1100.8 973.0 L1100.5 976.1 L1102.1 977.6 L1099.9 980.1 L1099.7 984.0 L1097.6 985.7 L1096.3 985.7 L1094.8 980.4 L1094.1 979.0 L1091.7 981.2 L1089.3 979.9 L1088.8 974.7 L1090.7 971.6 L1094.1 968.8 L1096.5 963.7 L1098.9 959.2 L1101.8 955.5 L1106.1 953.2 L1109.0 951.8 L1111.4 952.3 L1113.8 954.1 L1115.7 956.0 L1119.5 957.4 L1123.4 961.2 L1123.4 964.9 L1120.5 968.8 L1122.9 968.3 L1126.2 964.4 L1126.4 959.2 L1129.1 962.5 L1134.9 958.7 L1139.7 958.2 L1142.5 956.0 L1146.4 957.4 L1149.3 958.7 L1148.3 951.8 L1150.2 945.5 L1154.0 947.2 L1154.0 957.4 L1155.0 950.3 L1157.9 948.7 L1161.7 943.5 L1167.5 938.6 L1175.1 934.7 L1183.8 927.6 L1192.4 934.7 L1187.6 943.2 L1193.4 943.2 L1199.1 945.5 L1206.8 945.5 L1208.7 951.8 L1213.5 949.7 L1218.3 946.2 L1226.0 948.1 L1229.8 952.0 L1237.5 955.5 L1247.1 956.6 L1248.0 954.6 L1254.8 957.4 L1256.7 957.9 L1261.0 961.7 L1266.6 964.9 L1263.4 968.3 L1258.1 966.5 L1255.7 968.3 L1254.3 972.6 L1250.0 974.7 L1247.1 977.6 L1243.3 977.6 L1240.9 981.3 L1239.4 984.9 L1239.4 986.9 L1237.5 989.8 L1234.6 992.9 L1233.7 989.8 L1233.2 984.9 L1236.5 978.6 L1240.4 974.7 L1237.5 976.7 L1232.7 979.0 L1229.8 979.5 L1226.0 978.8 L1221.2 979.0 L1216.4 984.0 L1215.9 988.2 L1219.3 989.4 L1218.8 992.9 L1217.4 998.1 L1213.5 1003.6 L1210.6 1004.2 L1208.7 1005.1 L1206.8 1008.1 L1208.0 1011.7 L1207.8 1013.9 L1205.4 1014.7 L1205.2 1012.0 L1203.9 1010.5 L1204.2 1008.6 L1200.6 1009.3 L1201.0 1007.4 L1198.2 1009.3 L1197.2 1010.5 L1199.6 1011.1 L1201.5 1011.7 L1199.6 1012.9 L1198.5 1014.4 L1200.1 1017.6 L1201.0 1019.8 L1200.1 1022.0 L1198.6 1024.7 L1196.3 1026.8 L1193.4 1028.0 L1190.5 1028.9 L1189.1 1029.8 L1188.1 1028.7 L1186.2 1030.4 L1185.4 1031.9 L1187.1 1033.9 L1188.9 1037.4 L1188.6 1038.9 L1186.2 1040.1 L1184.7 1041.6 L1184.5 1039.9 L1182.3 1038.2 L1180.7 1037.1 L1179.8 1039.4 L1180.2 1041.8 L1181.9 1043.9 L1183.3 1046.2 L1184.0 1048.7 L1183.2 1048.8 L1181.2 1047.2 L1180.2 1044.5 L1178.3 1042.3 L1178.5 1040.4 L1178.0 1037.4 L1177.5 1033.9 L1175.6 1034.6 L1174.5 1032.9 L1173.2 1030.4 L1172.3 1028.4 L1170.8 1027.8 L1168.9 1028.7 L1167.5 1029.4 L1167.0 1030.4 L1164.6 1032.1 L1162.7 1033.9 L1161.0 1034.9 L1160.8 1036.9 L1160.6 1040.1 L1158.8 1042.0 L1158.1 1042.1 L1156.9 1039.9 L1155.5 1036.9 L1154.0 1032.9 L1153.9 1029.9 L1151.6 1029.6 L1150.2 1028.0 L1148.8 1026.3 L1147.8 1024.9 L1143.5 1025.0 L1139.2 1024.7 L1138.2 1023.1 L1135.8 1023.5 L1133.4 1022.0 L1132.0 1019.6 L1130.1 1019.8 L1130.8 1022.0 L1132.2 1023.6 L1133.4 1025.7 L1134.4 1026.1 L1136.3 1026.1 L1137.9 1023.9 L1138.2 1025.7 L1140.3 1026.8 L1141.4 1027.8 L1139.5 1031.4 L1137.0 1032.9 L1133.9 1034.2 L1130.5 1036.4 L1127.2 1037.6 L1125.8 1037.7 L1125.0 1034.9 L1123.4 1031.9 L1121.4 1028.9 L1120.0 1025.7 L1117.8 1022.0 L1117.5 1020.4 L1116.8 1022.2 L1115.3 1019.9 L1115.0 1018.5 L1116.9 1018.2 L1117.6 1016.4 L1118.6 1013.5 L1118.6 1012.0 L1115.7 1012.7 L1113.3 1012.3 L1110.9 1012.1 L1110.2 1011.1 L1109.3 1008.9 L1109.4 1007.7 L1107.0 1006.8 L1106.1 1007.7 L1107.0 1010.5 L1106.1 1012.3 L1104.8 1012.0 L1103.7 1009.3 L1102.6 1006.2 L1102.2 1005.1 L1100.3 1004.0 L1098.4 1002.2 L1097.3 1000.7 L1095.8 1001.2 L1096.0 1002.9 L1097.5 1004.9 L1099.4 1005.8 L1101.8 1007.8 L1100.3 1007.7 L1099.9 1009.6 L1099.1 1010.5 L1099.4 1008.7 L1097.9 1007.2 L1096.0 1006.2 L1094.1 1004.2 L1092.5 1002.4 L1091.2 1003.2 L1088.8 1003.7 L1087.1 1004.0 L1087.1 1005.7 L1084.8 1006.8 L1083.7 1008.7 L1083.5 1010.2 L1082.1 1012.0 L1079.0 1012.7 L1078.0 1012.0 L1076.8 1011.5ZM1078.7 994.3 L1080.7 993.9 L1085.3 992.6 L1085.7 990.1 L1084.2 989.4 L1082.6 986.6 L1082.1 984.9 L1082.1 981.9 L1080.2 981.9 L1081.1 980.3 L1079.2 980.3 L1078.3 982.2 L1078.7 985.2 L1079.4 986.9 L1081.1 988.2 L1081.0 989.2 L1079.7 989.4 L1079.7 991.4 L1079.0 991.7 L1080.7 992.2ZM1074.4 991.4 L1078.0 991.1 L1078.3 988.2 L1076.8 986.1 L1074.4 987.7 L1074.9 989.8ZM1208.7 1018.1 L1210.2 1015.9 L1211.1 1014.9 L1213.5 1014.7 L1215.4 1014.6 L1217.4 1014.1 L1219.1 1013.2 L1220.0 1009.3 L1219.6 1006.4 L1218.3 1006.8 L1218.1 1008.7 L1216.4 1011.4 L1215.0 1012.0 L1214.5 1013.3 L1211.6 1013.5 L1209.7 1014.8 L1208.5 1016.2ZM1218.3 1005.5 L1219.8 1003.8 L1220.0 1001.0 L1223.1 1002.9 L1223.4 1004.0 L1221.2 1005.5 L1219.3 1004.9ZM1220.2 1000.2 L1221.7 995.9 L1221.2 991.4 L1220.7 988.2 L1220.2 991.4 L1220.2 997.4ZM1199.3 1027.4 L1200.9 1025.2 L1200.1 1028.4ZM1188.6 1030.4 L1190.5 1030.4 L1189.5 1032.1 L1188.3 1031.7ZM1160.6 1040.8 L1162.5 1042.8 L1161.7 1044.2 L1160.8 1044.0ZM1175.4 1044.7 L1178.0 1046.2 L1180.4 1048.1 L1183.3 1051.0 L1185.7 1053.4 L1185.2 1055.6 L1181.9 1053.8 L1179.0 1050.5 L1177.1 1047.6ZM1185.2 1056.2 L1188.1 1056.4 L1190.5 1056.3 L1193.9 1057.3 L1193.9 1058.3 L1189.5 1057.9 L1186.2 1057.2ZM1188.6 1048.6 L1191.0 1047.6 L1192.9 1046.2 L1195.3 1043.5 L1198.2 1045.0 L1197.0 1047.1 L1198.0 1049.0 L1195.8 1051.4 L1195.3 1053.8 L1192.9 1053.3 L1189.8 1052.9 L1188.6 1050.5ZM1198.6 1055.3 L1199.6 1052.7 L1199.1 1049.5 L1202.5 1049.0 L1203.9 1048.5 L1203.0 1049.7 L1200.1 1049.6 L1200.6 1051.0 L1202.3 1051.0 L1201.0 1052.1 L1201.8 1054.3 L1200.6 1054.5 L1199.6 1053.4 L1199.5 1055.4ZM1209.7 1050.8 L1212.6 1050.8 L1213.5 1053.2 L1216.4 1051.6 L1219.3 1052.5 L1223.1 1054.1 L1225.8 1056.0 L1224.5 1056.6 L1226.5 1058.7 L1228.4 1060.1 L1225.0 1059.6 L1222.2 1057.4 L1219.3 1058.9 L1216.9 1057.9 L1216.4 1055.3 L1212.1 1053.8 L1210.6 1052.7ZM1199.6 1031.9 L1201.2 1032.1 L1201.0 1034.2 L1200.6 1036.2 L1203.0 1037.4 L1202.8 1037.9 L1200.1 1036.7 L1199.4 1035.6 L1199.1 1034.2ZM1201.0 1043.3 L1202.5 1041.7 L1204.4 1040.7 L1205.4 1042.8 L1204.4 1044.2 L1203.0 1043.8ZM1202.5 1059.9 L1205.8 1058.1 L1203.9 1059.3ZM1193.4 1071.6 L1193.4 1075.8 L1194.3 1081.3 L1194.6 1085.1 L1197.2 1085.9 L1199.1 1084.7 L1203.0 1083.6 L1206.8 1082.4 L1209.7 1081.9 L1212.6 1083.3 L1214.3 1085.6 L1215.9 1083.6 L1216.4 1086.5 L1218.3 1088.9 L1221.7 1090.4 L1224.1 1090.7 L1226.0 1089.2 L1227.9 1088.5 L1228.9 1084.7 L1230.8 1080.2 L1231.1 1075.8 L1228.9 1073.2 L1226.9 1070.6 L1224.5 1068.6 L1223.6 1064.6 L1221.7 1063.6 L1220.7 1060.4 L1219.8 1062.6 L1219.3 1066.1 L1217.8 1067.1 L1214.5 1064.6 L1215.0 1061.6 L1211.1 1060.9 L1209.2 1062.1 L1208.2 1064.4 L1205.8 1063.6 L1203.9 1065.1 L1201.3 1067.1 L1200.6 1069.1 L1196.3 1070.2ZM1222.8 1092.9 L1226.2 1092.9 L1226.0 1095.8 L1224.5 1096.6 L1223.4 1095.5ZM1249.8 1085.3 L1252.4 1087.8 L1255.0 1089.2 L1253.7 1091.3 L1252.2 1093.7 L1251.8 1091.7 L1250.9 1090.9 L1251.6 1089.2ZM1249.8 1092.8 L1251.0 1094.2 L1249.8 1096.6 L1248.0 1099.0 L1246.1 1100.5 L1244.0 1099.8 L1245.7 1097.4 L1248.0 1095.1ZM1095.5 920.4 L1099.4 916.7 L1104.2 915.6 L1107.0 918.8 L1103.2 923.4 L1100.8 931.0 L1097.9 927.6ZM1133.9 950.3 L1135.8 944.5 L1138.7 937.8 L1143.5 933.1 L1149.7 931.0 L1146.4 936.3 L1140.6 942.2 L1138.2 948.7 L1137.3 952.3ZM1176.1 920.4 L1179.5 912.7 L1183.8 919.3 L1179.9 924.3ZM1215.4 936.7 L1220.2 934.7 L1226.0 937.4 L1222.2 939.7 L1216.4 939.7ZM1132.0 912.7 L1136.8 910.9 L1141.6 911.5 L1137.7 914.4ZM1025.5 1107.8 L1028.4 1107.5 L1027.9 1109.1 L1025.5 1108.6ZM1096.0 1010.5 L1098.9 1010.3 L1098.4 1012.1 L1096.0 1011.0ZM1092.0 1006.8 L1093.3 1006.8 L1093.1 1009.1 L1092.2 1009.3ZM1092.4 1004.4 L1093.1 1004.4 L1092.9 1006.3 L1092.4 1005.8ZM1106.7 1013.4 L1109.2 1013.8 L1107.5 1014.1ZM1115.1 1014.1 L1117.1 1013.4 L1116.4 1014.5ZM1255.2 950.3 L1258.1 950.6 L1256.7 952.3Z" fill="#dfe2ea" stroke="#dfe2ea" stroke-width="0.8" stroke-linejoin="round"/><path d="M948.8 955.5 L948.8 977.0M966.0 995.9 L992.9 995.9 L998.7 997.4 L1003.0 999.5 L1004.9 1001.6 L1004.9 1005.5 L1008.2 1004.2 L1010.6 1002.9 L1012.1 1001.6 L1015.4 1001.6 L1017.8 998.4 L1019.0 998.8 L1019.8 1001.6M971.7 1017.0 L973.9 1017.0 L977.6 1018.4 L980.2 1018.4 L980.2 1017.8 L981.9 1017.8 L983.8 1020.4 L985.2 1020.9 L986.7 1020.0 L988.6 1022.5 L990.8 1024.3M995.6 1035.9 L996.7 1034.4 L996.7 1032.6 L998.5 1032.6 L999.3 1032.0M998.5 1032.6 L998.5 1034.5 L999.3 1034.7M1034.5 1046.0 L1031.7 1047.8 L1029.4 1048.1 L1027.4 1048.8 L1026.5 1045.2 L1024.6 1046.2 L1022.6 1048.1 L1019.8 1048.1 L1016.9 1049.0 L1017.4 1054.0 L1014.0 1056.7 L1013.5 1059.2 L1016.4 1060.4 L1017.8 1060.6 L1021.4 1059.6 L1026.0 1063.3 L1028.4 1065.9 L1028.6 1069.6 L1030.5 1072.0 L1031.7 1075.3 L1032.4 1076.9 L1028.8 1080.4 L1032.8 1084.4M1017.4 1067.1 L1018.5 1072.7 L1016.9 1080.2 L1016.4 1087.1 L1015.4 1093.2 L1015.0 1101.2 L1014.5 1107.1 L1018.2 1109.4M1015.0 1038.4 L1014.5 1042.3 L1019.3 1044.2 L1019.8 1048.1M1028.6 1069.6 L1024.1 1072.0 L1019.6 1072.5 L1018.5 1072.7M1017.8 1060.6 L1017.4 1067.1M1028.8 1080.4 L1027.9 1077.2 L1031.7 1075.3M1007.0 1053.3 L1008.7 1054.6 L1011.8 1050.2 L1010.2 1049.2 L1008.4 1048.7M1011.8 1050.2 L1014.0 1052.2 L1016.9 1054.0M1026.5 1041.8 L1025.2 1044.2 L1026.5 1045.2M1029.4 1044.2 L1029.4 1048.1M1032.0 1044.4 L1031.7 1047.8M1082.1 1013.9 L1082.9 1017.0 L1080.6 1018.1 L1075.7 1021.2 L1075.7 1022.8M1071.6 1022.3 L1075.7 1022.8 L1079.4 1025.2 L1085.2 1029.3 L1087.2 1031.4 L1088.1 1031.2 L1089.8 1030.9 L1095.5 1026.8 L1098.4 1027.3 L1107.0 1030.9 L1107.0 1034.7 L1106.0 1034.8 L1105.6 1037.7M1092.3 1011.9 L1091.7 1015.9 L1093.1 1019.6 L1093.6 1025.2 L1095.5 1026.8M1093.1 1019.6 L1095.1 1016.2M1108.0 1017.9 L1108.0 1028.4 L1119.4 1028.4M1108.0 1028.4 L1108.0 1030.4 L1107.0 1030.4 L1107.0 1030.9M1079.4 1025.2 L1077.8 1025.2 L1078.7 1034.9 L1073.0 1035.2 L1072.3 1035.6 L1068.2 1034.2M1071.6 1022.3 L1071.6 1027.3 L1067.7 1029.0M1087.5 1038.7 L1088.1 1036.9 L1090.7 1037.4 L1093.6 1037.1 L1097.1 1036.7 L1097.5 1037.9 L1096.5 1040.8 L1095.1 1043.7 L1092.3 1045.4M1086.6 1043.9 L1087.5 1038.7M1088.1 1031.2 L1088.1 1033.6 L1084.2 1035.4 L1078.7 1040.0 L1076.4 1040.2 L1076.1 1042.7 L1076.8 1045.9M1098.4 1027.3 L1099.4 1029.9 L1098.9 1033.6 L1097.1 1036.7M1081.1 1045.2 L1081.3 1039.6 L1084.2 1039.4 L1084.9 1044.2M1073.0 1043.4 L1074.1 1041.8 L1076.1 1042.7M1070.9 1040.6 L1073.5 1040.4 L1076.4 1040.2M1072.3 1035.6 L1073.1 1038.0 L1070.9 1037.8 L1068.0 1038.0M1105.6 1037.7 L1106.6 1041.3 L1110.3 1045.1 L1113.7 1046.6 L1116.6 1046.0 L1118.5 1045.6 L1118.6 1044.9 L1116.7 1041.8 L1116.6 1040.4 L1115.7 1038.2 L1118.9 1036.0 L1121.0 1032.4M1118.6 1045.7 L1124.2 1046.3 L1123.4 1050.9 L1123.9 1051.6M1125.5 1038.9 L1125.1 1039.5 L1127.2 1041.7 L1130.1 1042.3 L1127.2 1045.2 L1124.2 1046.3M1116.6 1051.0 L1120.2 1053.0 L1121.6 1054.5M1118.9 1036.0 L1120.4 1035.5 L1122.4 1035.9 L1124.7 1037.9M1106.6 1041.3 L1107.0 1041.6 L1108.0 1040.1 L1110.8 1040.7 L1112.8 1040.1 L1115.1 1038.7 L1115.7 1038.2M1095.8 1055.8 L1099.9 1055.7 L1100.9 1057.8 L1104.9 1057.0 L1105.1 1060.6 L1107.0 1060.6 L1108.3 1061.2 L1110.4 1061.9 L1111.8 1063.0 L1112.6 1061.8 L1111.3 1058.9 L1113.5 1057.9 L1112.1 1054.2 L1112.4 1051.3 L1114.0 1047.9 L1113.7 1046.6M1101.9 1046.6 L1101.0 1050.5 L1099.6 1051.9 L1099.4 1053.8 L1096.5 1054.4 L1094.7 1053.7M1110.3 1045.1 L1105.5 1046.1 L1101.9 1046.6 L1099.4 1048.1 L1096.8 1047.9 L1093.4 1047.8M1098.4 1040.4 L1098.9 1042.8 L1097.9 1045.2 L1099.4 1048.1M1097.5 1037.9 L1098.4 1040.4 L1105.6 1039.5M1095.3 1066.9 L1097.5 1067.0 L1101.7 1067.0 L1106.5 1067.2 L1108.3 1067.4M1105.1 1060.6 L1105.1 1062.6 L1107.0 1062.6 L1106.5 1067.2M1103.2 1071.6 L1103.2 1078.4 L1100.3 1078.0M1103.2 1071.6 L1104.2 1071.6 L1104.2 1067.9M1103.2 1074.6 L1108.6 1075.4 L1112.2 1071.8 L1114.0 1072.1 L1114.7 1076.7M1108.3 1067.4 L1109.9 1067.6 L1113.2 1065.2 L1115.7 1063.6 L1117.1 1061.1 L1117.5 1061.2 L1122.8 1060.1M1108.3 1067.4 L1109.2 1069.1 L1112.2 1071.8M1113.2 1065.2 L1115.6 1066.3 L1117.4 1066.4 L1117.9 1064.0 L1117.1 1061.1M1112.4 1051.3 L1113.3 1051.0 L1116.5 1051.0M1113.5 1057.9 L1115.6 1059.1 L1116.6 1059.2 L1117.1 1061.1M1116.5 1051.0 L1116.6 1046.0M1114.0 1072.1 L1115.6 1070.9 L1115.5 1069.2 L1113.2 1065.2M1110.9 984.9 L1113.8 991.4 L1117.6 993.7 L1122.4 995.0 L1122.4 997.7 L1128.9 996.9 L1129.1 994.5 L1132.0 991.9 L1136.8 992.9 L1142.5 992.9 L1143.0 988.2 L1150.2 986.1 L1152.1 987.9 L1157.9 989.4 L1160.8 993.3 L1167.8 995.6 L1172.3 993.4 L1178.0 994.5 L1181.9 992.5 L1187.6 995.2 L1193.4 994.2 L1196.3 995.0 L1199.1 990.5 L1202.5 989.0 L1206.3 994.5 L1209.7 997.8 L1213.5 996.8 L1211.6 1001.6 L1209.9 1004.2 L1209.4 1005.1M1168.2 995.6 L1171.3 1001.3 L1175.6 1002.6 L1176.4 1004.6 L1180.9 1004.9 L1184.7 1006.0 L1190.0 1004.6 L1191.5 1003.2 L1191.3 1001.6 L1195.3 999.5 L1198.9 999.2 L1196.0 994.8M1167.8 995.6 L1166.2 998.8 L1163.2 1000.9 L1161.0 1005.1 L1154.6 1008.7 L1155.9 1011.5 L1152.1 1012.7M1161.0 1005.1 L1155.0 1004.2 L1152.1 1005.1 L1150.2 1006.4 L1147.8 1006.8 L1142.5 1002.5 L1140.1 1000.9 L1137.7 1001.6 L1137.7 1006.4 L1134.9 1005.5M1149.4 1026.6 L1152.1 1025.6 L1150.8 1023.1 L1154.0 1019.8 L1155.5 1018.7 L1155.0 1015.3 L1158.7 1013.5M1158.7 1013.5 L1159.8 1017.0 L1161.7 1019.6 L1168.5 1022.1 L1172.3 1022.2 L1176.1 1020.5 L1177.4 1021.7M1161.7 1019.6 L1160.9 1021.1 L1168.5 1023.7 L1168.5 1022.1M1168.9 1028.7 L1169.3 1023.8 L1172.7 1025.2 L1172.3 1028.4M1177.4 1021.7 L1175.1 1023.6 L1174.5 1026.3 L1173.5 1028.2 L1172.6 1029.7M1127.0 1008.4 L1130.1 1009.6 L1130.9 1010.1M1127.0 1008.4 L1126.5 1011.7 L1128.1 1013.2 L1127.7 1015.3 L1129.9 1018.7 L1130.5 1019.8M1142.7 1013.4 L1142.2 1015.3 L1142.3 1018.1 L1143.3 1018.5 L1142.4 1020.0 L1144.7 1022.9 L1143.1 1025.0M1135.7 1011.4 L1138.9 1010.3 L1142.7 1012.2 L1142.7 1013.4M1142.7 1013.4 L1145.9 1012.6 L1147.8 1011.3 L1152.1 1012.7 L1155.9 1011.5M1142.4 1020.0 L1147.6 1019.9 L1150.5 1017.7 L1152.1 1015.3 L1152.1 1012.7M1147.8 1011.3 L1147.8 1006.8M1137.7 1006.4 L1140.1 1004.6 L1142.5 1006.6 L1147.8 1011.3M1117.5 1020.4 L1119.5 1020.6 L1121.6 1017.3 L1124.3 1018.6 L1126.9 1020.7 L1129.6 1020.9 L1130.5 1021.5M1133.5 1026.0 L1137.4 1027.6 L1136.8 1030.4 L1133.9 1031.4 L1130.8 1032.1 L1129.1 1033.5 L1125.6 1032.9 L1125.1 1034.0M1136.8 1030.4 L1137.7 1032.4 L1135.0 1033.8M1118.6 1012.0 L1121.2 1012.1 L1124.7 1011.6 L1127.0 1011.5 L1127.0 1008.4 L1125.9 1006.7 L1123.8 1006.2M1118.4 1016.8 L1121.2 1016.0 L1123.4 1014.8 L1124.7 1011.6M1121.6 1017.3 L1121.2 1016.0M1123.4 1014.8 L1126.9 1020.7M1177.4 1021.7 L1178.7 1026.3 L1181.1 1028.9 L1180.0 1030.0 L1178.0 1030.9 L1177.8 1032.9 L1178.9 1035.4 L1179.2 1038.9 L1178.5 1040.4M1181.1 1028.9 L1182.0 1027.9 L1185.0 1027.0 L1187.6 1028.9M1180.0 1030.0 L1181.1 1032.9 L1184.5 1033.0 L1185.3 1034.9 L1187.1 1035.9 L1187.1 1038.1 L1185.5 1038.9 L1184.2 1040.0M1182.0 1027.9 L1183.8 1029.9 L1184.7 1031.7 L1187.1 1035.9M1182.3 1038.2 L1182.3 1036.2 L1185.3 1036.0M1203.3 1008.1 L1205.7 1005.8 L1208.4 1005.0 L1209.4 1005.1M1205.6 1010.8 L1207.2 1009.8M1189.1 1048.3 L1191.0 1049.0 L1193.9 1048.6 L1195.1 1045.9 L1196.8 1046.0M1219.3 1052.5 L1219.3 1058.9M1082.3 1003.8 L1087.1 1005.0M1075.6 1005.7 L1078.0 1005.9 L1077.3 1009.3 L1076.9 1011.5M1086.4 992.8 L1089.8 995.2 L1091.9 995.9 L1091.2 998.0 L1089.8 999.9 L1090.7 1000.3 L1091.2 1003.2M1090.7 989.4 L1089.8 993.3 L1089.8 995.2M1097.6 988.4 L1098.1 992.9 L1095.7 994.0 L1097.3 996.5 L1096.5 998.1 L1093.2 998.1 L1091.2 998.0M1098.1 992.9 L1102.1 995.2 L1105.6 995.8 L1107.0 993.3 L1106.7 988.2M1093.0 986.9 L1092.3 986.7M1097.3 996.5 L1100.3 997.4 L1105.3 996.8 L1107.9 997.8 L1109.5 996.9 L1111.1 1000.9 L1112.4 1001.3M1097.2 999.5 L1099.9 999.6 L1102.1 1000.3 L1103.5 1000.1 L1105.8 1002.2 L1105.5 1005.1 L1109.3 1005.9 L1110.9 1005.5M1106.7 988.2 L1109.5 985.4 L1110.9 984.9 L1110.6 982.4 L1110.3 978.8M1106.7 988.2 L1108.8 987.9 L1110.9 984.9M1107.0 993.3 L1113.8 991.4M1105.6 995.8 L1105.3 996.8M1112.4 1001.3 L1111.1 1000.9 L1109.5 996.9 L1112.0 997.4 L1112.8 999.6M1094.8 979.5 L1095.7 975.7 L1095.6 970.5 L1097.9 964.9 L1099.8 960.0 L1103.2 957.4 L1104.2 956.8M1110.9 976.7 L1114.2 971.8 L1112.8 965.6 L1111.8 957.4M1106.9 965.4 L1106.7 960.2 L1104.2 956.8 L1108.7 956.8 L1111.8 957.4M1102.6 1005.7 L1103.8 1006.8 L1104.2 1008.4 L1103.4 1008.6M1105.5 1005.1 L1103.8 1006.8M1106.0 1006.4 L1109.3 1006.4M1097.2 999.5 L1097.2 1000.7M1102.1 1000.3 L1102.2 1001.7 L1102.6 1004.2 L1102.2 1005.1" fill="none" stroke="#fff" stroke-opacity=".75" stroke-width="0.6" stroke-linejoin="round"/><path d="M1110.9 1005.5 L1111.7 1001.8 L1113.3 999.8 L1115.7 1000.2 L1116.2 1002.2 L1118.1 1001.3 L1119.5 1001.0 L1120.5 998.8 L1121.7 998.8 L1120.0 1001.0 L1121.4 1002.9 L1123.8 1004.9 L1123.8 1006.2 L1120.5 1006.8 L1117.6 1005.5 L1114.2 1006.6 L1111.8 1006.6ZM1129.1 1000.9 L1132.0 999.5 L1134.9 999.5 L1134.4 1001.6 L1132.9 1002.2 L1134.9 1005.5 L1135.8 1007.4 L1135.3 1011.7 L1132.5 1011.7 L1131.0 1009.9 L1131.5 1007.4 L1129.6 1004.5Z" fill="#fff"/><circle cx="981.5" cy="985.8" r="8" fill="#fff" fill-opacity=".85"/><circle cx="981.5" cy="985.8" r="7" fill="#1170e4" fill-opacity=".45"/><circle cx="981.5" cy="985.8" r="4.6" fill="#1170e4"/><circle cx="985.9" cy="1009.0" r="8" fill="#fff" fill-opacity=".85"/><circle cx="985.9" cy="1009.0" r="7" fill="#6c5ffc" fill-opacity=".45"/><circle cx="985.9" cy="1009.0" r="4.6" fill="#6c5ffc"/><circle cx="1096.1" cy="1006.8" r="8" fill="#fff" fill-opacity=".85"/><circle cx="1096.1" cy="1006.8" r="7" fill="#e82646" fill-opacity=".45"/><circle cx="1096.1" cy="1006.8" r="4.6" fill="#e82646"/><circle cx="1160.0" cy="1031.0" r="8" fill="#fff" fill-opacity=".85"/><circle cx="1160.0" cy="1031.0" r="7" fill="#05c3fb" fill-opacity=".45"/><circle cx="1160.0" cy="1031.0" r="4.6" fill="#05c3fb"/><circle cx="1139.5" cy="1071.4" r="8" fill="#fff" fill-opacity=".85"/><circle cx="1139.5" cy="1071.4" r="7" fill="#f7b731" fill-opacity=".45"/><circle cx="1139.5" cy="1071.4" r="4.6" fill="#f7b731"/></svg>
<div style="left:848.10px;top:1136.00px;font-size:14px;line-height:20px;color:#282f53;font-weight:400;white-space:nowrap;letter-spacing:-0.159px;-webkit-text-stroke:0.42px #282f53;">Device</div>
<div style="left:1086.30px;top:1136.00px;font-size:14px;line-height:20px;color:#282f53;font-weight:400;white-space:nowrap;letter-spacing:-0.891px;-webkit-text-stroke:0.42px #282f53;">USA</div>
<div style="left:1177.00px;top:1136.00px;font-size:14px;line-height:20px;color:#282f53;font-weight:400;white-space:nowrap;letter-spacing:0.656px;-webkit-text-stroke:0.42px #282f53;">India</div>
<div style="left:1273.70px;top:1136.00px;font-size:14px;line-height:20px;color:#282f53;font-weight:400;white-space:nowrap;letter-spacing:0.125px;-webkit-text-stroke:0.42px #282f53;">Bahrain</div>
<div style="position:absolute;left:836px;top:1169px;width:520px;height:1px;background:#e9edf4"></div>
<div style="position:absolute;left:859.8px;top:1185.7px;width:34px;height:34px;background:#efedff;border-radius:50%"></div>
<svg style="position:absolute;left:867.05px;top:1193.25px;" width="19.5" height="19.5" viewBox="0 0 24 24" fill="none" stroke="#6c5ffc" stroke-width="1.8" stroke-linecap="round" stroke-linejoin="round"><rect x="5" y="2" width="14" height="20" rx="2" ry="2"/><circle cx="12" cy="18" r=".7" fill="#6c5ffc"/></svg>
<div style="left:902.10px;top:1192.00px;font-size:14px;line-height:20px;color:#282f53;font-weight:400;white-space:nowrap;letter-spacing:-0.372px;-webkit-text-stroke:0.22px #282f53;">Mobiles</div>
<div style="left:1085.80px;top:1194.00px;font-size:13.5px;line-height:19px;color:#282f53;font-weight:400;white-space:nowrap;letter-spacing:0.492px;-webkit-text-stroke:0.22px #282f53;">17%</div>
<div style="left:1179.50px;top:1194.00px;font-size:13.5px;line-height:19px;color:#282f53;font-weight:400;white-space:nowrap;letter-spacing:0.492px;-webkit-text-stroke:0.22px #282f53;">22%</div>
<div style="left:1284.20px;top:1194.00px;font-size:13.5px;line-height:19px;color:#282f53;font-weight:400;white-space:nowrap;letter-spacing:0.992px;-webkit-text-stroke:0.22px #282f53;">11%</div>
<div style="position:absolute;left:836px;top:1236px;width:520px;height:1px;background:#e9edf4"></div>
<div style="position:absolute;left:859.8px;top:1252.7px;width:34px;height:34px;background:#e1f8ff;border-radius:50%"></div>
<svg style="position:absolute;left:867.05px;top:1260.25px;" width="19.5" height="19.5" viewBox="0 0 24 24" fill="none" stroke="#05c3fb" stroke-width="1.8" stroke-linecap="round" stroke-linejoin="round"><rect x="2" y="3" width="20" height="14" rx="2" ry="2"/><line x1="8" y1="21" x2="16" y2="21"/><line x1="12" y1="17" x2="12" y2="21"/></svg>
<div style="left:902.10px;top:1259.00px;font-size:14px;line-height:20px;color:#282f53;font-weight:400;white-space:nowrap;letter-spacing:-0.451px;-webkit-text-stroke:0.22px #282f53;">Desktops</div>
<div style="left:1085.80px;top:1261.00px;font-size:13.5px;line-height:19px;color:#282f53;font-weight:400;white-space:nowrap;letter-spacing:0.492px;-webkit-text-stroke:0.22px #282f53;">34%</div>
<div style="left:1179.50px;top:1261.00px;font-size:13.5px;line-height:19px;color:#282f53;font-weight:400;white-space:nowrap;letter-spacing:0.492px;-webkit-text-stroke:0.22px #282f53;">76%</div>
<div style="left:1284.20px;top:1261.00px;font-size:13.5px;line-height:19px;color:#282f53;font-weight:400;white-space:nowrap;letter-spacing:0.492px;-webkit-text-stroke:0.22px #282f53;">58%</div>
<div style="position:absolute;left:836px;top:1303px;width:520px;height:1px;background:#e9edf4"></div>
<div style="position:absolute;left:859.8px;top:1319.7px;width:34px;height:34px;background:#fde6ea;border-radius:50%"></div>
<svg style="position:absolute;left:867.05px;top:1327.25px;" width="19.5" height="19.5" viewBox="0 0 24 24" fill="none" stroke="#e82646" stroke-width="1.8" stroke-linecap="round" stroke-linejoin="round"><rect x="4" y="2" width="16" height="20" rx="2" ry="2"/><circle cx="12" cy="18" r=".7" fill="#e82646"/></svg>
<div style="left:902.10px;top:1326.00px;font-size:14px;line-height:20px;color:#282f53;font-weight:400;white-space:nowrap;letter-spacing:-0.227px;-webkit-text-stroke:0.22px #282f53;">Tablets</div>
<div style="left:1085.80px;top:1328.00px;font-size:13.5px;line-height:19px;color:#282f53;font-weight:400;white-space:nowrap;letter-spacing:0.492px;-webkit-text-stroke:0.22px #282f53;">56%</div>
<div style="left:1179.50px;top:1328.00px;font-size:13.5px;line-height:19px;color:#282f53;font-weight:400;white-space:nowrap;letter-spacing:0.492px;-webkit-text-stroke:0.22px #282f53;">83%</div>
<div style="left:1284.20px;top:1328.00px;font-size:13.5px;line-height:19px;color:#282f53;font-weight:400;white-space:nowrap;letter-spacing:0.492px;-webkit-text-stroke:0.22px #282f53;">66%</div>
<!-- browser -->
<div class="card" style="left:1379px;top:825px;width:522px;height:548px;"></div>
<div style="left:1404.20px;top:844.00px;font-size:16px;line-height:22px;color:#282f53;font-weight:400;white-space:nowrap;letter-spacing:0.127px;-webkit-text-stroke:0.48px #282f53;">Browser Usage</div>
<div style="position:absolute;left:1380px;top:883px;width:520px;height:1px;background:#e9edf4"></div>
<div style="position:absolute;left:1404.7px;top:908.9px;width:40px;height:40px;background:#f5f5fb;border-radius:50%"></div>
<svg style="left:1414.70px;top:918.90px" width="20" height="20" viewBox="0 0 24 24"><circle cx="12" cy="12" r="11.5" fill="#fff"/><path d="M12 12 L2.04 6.25 A11.5 11.5 0 0 1 21.96 6.25 Z" fill="#e8453c"/><path d="M12 12 L21.96 6.25 A11.5 11.5 0 0 1 12 23.5 Z" fill="#f9bb2d"/><path d="M12 12 L12 23.5 A11.5 11.5 0 0 1 2.04 6.25 Z" fill="#2da94f"/><circle cx="12" cy="12" r="5.4" fill="#f4f6fb"/><circle cx="12" cy="12" r="4.1" fill="#4a8af4"/></svg>
<div style="left:1475.70px;top:907.00px;font-size:14px;line-height:20px;color:#282f53;font-weight:400;white-space:nowrap;letter-spacing:-0.239px;">Chrome</div>
<div style="left:1767.30px;top:907.00px;font-size:14.5px;line-height:20px;color:#1f2549;font-weight:400;white-space:nowrap;letter-spacing:0.211px;-webkit-text-stroke:0.43px #1f2549;">35,502</div>
<div style="left:1816.40px;top:911.00px;font-size:12px;line-height:17px;color:#09ad95;font-weight:400;white-space:nowrap;-webkit-text-stroke:0.36px #09ad95;">(</div>
<svg style="position:absolute;left:1819.60px;top:912.50px;" width="12" height="12" viewBox="0 0 24 24" fill="none" stroke="#09ad95" stroke-width="2.2" stroke-linecap="round" stroke-linejoin="round"><line x1="12" y1="19" x2="12" y2="5"/><polyline points="5 12 12 5 19 12"/></svg>
<div style="left:1831.80px;top:911.00px;font-size:12px;line-height:17px;color:#09ad95;font-weight:400;white-space:nowrap;letter-spacing:-0.234px;-webkit-text-stroke:0.36px #09ad95;">12.75%)</div>
<div style="position:absolute;left:1475.7px;top:934.3px;width:399px;height:7.6px;background:#f3f4fa;border-radius:4px"></div>
<div style="position:absolute;left:1475.7px;top:934.3px;width:279.3px;height:7.6px;background:#6c5ffc;border-radius:4px 0 0 4px"></div>
<div style="position:absolute;left:1404.7px;top:973.63px;width:40px;height:40px;background:#f5f5fb;border-radius:50%"></div>
<svg style="left:1414.70px;top:983.63px" width="20" height="20" viewBox="0 0 24 24"><ellipse cx="12" cy="12" rx="9.2" ry="11" fill="#e0121f"/><ellipse cx="12" cy="12" rx="4.5" ry="8.2" fill="#f8f8fd"/><path d="M12 1 A9.2 11 0 0 0 12 23 A11 11.5 0 0 1 12 1Z" fill="#b30d18" opacity=".35"/></svg>
<div style="left:1475.70px;top:972.00px;font-size:14px;line-height:20px;color:#282f53;font-weight:400;white-space:nowrap;letter-spacing:-0.330px;">Opera</div>
<div style="left:1767.30px;top:972.00px;font-size:14.5px;line-height:20px;color:#1f2549;font-weight:400;white-space:nowrap;letter-spacing:0.211px;-webkit-text-stroke:0.43px #1f2549;">12,563</div>
<div style="left:1816.40px;top:976.00px;font-size:12px;line-height:17px;color:#e82646;font-weight:400;white-space:nowrap;-webkit-text-stroke:0.36px #e82646;">(</div>
<svg style="position:absolute;left:1819.60px;top:977.23px;" width="12" height="12" viewBox="0 0 24 24" fill="none" stroke="#e82646" stroke-width="2.2" stroke-linecap="round" stroke-linejoin="round"><line x1="12" y1="5" x2="12" y2="19"/><polyline points="19 12 12 19 5 12"/></svg>
<div style="left:1831.80px;top:976.00px;font-size:12px;line-height:17px;color:#e82646;font-weight:400;white-space:nowrap;letter-spacing:-0.234px;-webkit-text-stroke:0.36px #e82646;">15.12%)</div>
<div style="position:absolute;left:1475.7px;top:999.03px;width:399px;height:7.6px;background:#f3f4fa;border-radius:4px"></div>
<div style="position:absolute;left:1475.7px;top:999.03px;width:159.6px;height:7.6px;background:#05c3fb;border-radius:4px 0 0 4px"></div>
<div style="position:absolute;left:1404.7px;top:1038.36px;width:40px;height:40px;background:#f5f5fb;border-radius:50%"></div>
<svg style="left:1414.70px;top:1048.36px" width="20" height="20" viewBox="0 0 512 512"><path d="M483.1 159.7c10.9-24.6 21.4-60.4 21.4-87.9 0-72.7-79.6-98.4-209.7-38.6C187.2 26 83.6 106.9 57.7 219.7c30.9-34.9 78.3-82.3 122-101.2C125.4 166.8 79.1 227.9 44 291.7c-20.7 37.9-44 99.2-44 145 0 98.6 92.9 86.5 180.3 42 31.4 15.4 66.6 15.6 101.7 15.6 97.1 0 184.2-54.3 216.8-146H378c-52.5 88.6-196.8 53-196.8-47.4H510c6.4-43.6-1.7-95.7-26.9-141.2M64.6 346.9c17.7 51.1 53.7 95.8 100.2 123.3C76.1 519.1-8.4 499.3 64.6 346.9M180.5 238c2-55.2 50.3-94.9 104-94.9 53.4 0 102 39.7 104 94.9zM365.1 50.4c21.4-10.3 48.6-22 72.6-22 31.4 0 54.3 21.7 54.3 53.7 0 20-7.4 49-14.6 67.9-26.3-42.3-66-81.6-112.3-99.6" fill="#1ebbee"/></svg>
<div style="left:1475.70px;top:1036.00px;font-size:14px;line-height:20px;color:#282f53;font-weight:400;white-space:nowrap;letter-spacing:-0.234px;">IE</div>
<div style="left:1767.30px;top:1036.00px;font-size:14.5px;line-height:20px;color:#1f2549;font-weight:400;white-space:nowrap;letter-spacing:0.211px;-webkit-text-stroke:0.43px #1f2549;">25,364</div>
<div style="left:1816.40px;top:1040.00px;font-size:12px;line-height:17px;color:#09ad95;font-weight:400;white-space:nowrap;-webkit-text-stroke:0.36px #09ad95;">(</div>
<svg style="position:absolute;left:1819.60px;top:1041.96px;" width="12" height="12" viewBox="0 0 24 24" fill="none" stroke="#09ad95" stroke-width="2.2" stroke-linecap="round" stroke-linejoin="round"><line x1="12" y1="5" x2="12" y2="19"/><polyline points="19 12 12 19 5 12"/></svg>
<div style="left:1831.80px;top:1040.00px;font-size:12px;line-height:17px;color:#09ad95;font-weight:400;white-space:nowrap;letter-spacing:-0.234px;-webkit-text-stroke:0.36px #09ad95;">24.37%)</div>
<div style="position:absolute;left:1475.7px;top:1063.76px;width:399px;height:7.6px;background:#f3f4fa;border-radius:4px"></div>
<div style="position:absolute;left:1475.7px;top:1063.76px;width:199.5px;height:7.6px;background:#09ad95;border-radius:4px 0 0 4px"></div>
<div style="position:absolute;left:1404.7px;top:1103.09px;width:40px;height:40px;background:#f5f5fb;border-radius:50%"></div>
<svg style="left:1414.70px;top:1113.09px" width="20" height="20" viewBox="0 0 24 24"><defs><linearGradient id="ffg" x1=".8" y1="0" x2=".3" y2="1"><stop offset="0" stop-color="#f9b021"/><stop offset=".55" stop-color="#ee6a1d"/><stop offset="1" stop-color="#d23a1c"/></linearGradient></defs><circle cx="12" cy="12.3" r="10.7" fill="url(#ffg)"/><circle cx="11" cy="10.6" r="6.9" fill="#2d62b5"/><circle cx="9.8" cy="9" r="3.6" fill="#4a8fe0" opacity=".75"/><path d="M1.5 11.5 C2 7.5 4 5.2 6.2 5.6 C5.4 7.6 6.6 9.2 8.6 9.8 C10.6 10.4 11 12 9.9 13.1 C8.8 14.2 6.9 13.7 6.4 12.8 C6.4 15.6 8.8 17.6 11.8 17.4 C15.6 17.1 18.4 13.8 17.5 8.6 C17 6.2 15.6 4.3 14 3.3 C19 4.5 22.7 8 22.7 12.3 A10.7 10.7 0 0 1 1.5 11.5Z" fill="url(#ffg)"/><path d="M2.3 7.5 C3 5.2 4.2 3.6 5.2 3.2 C5 4.2 5.4 5 6.2 5.6 C4.4 5.6 3 6.4 2.3 7.5Z" fill="#e8661b"/></svg>
<div style="left:1475.70px;top:1101.00px;font-size:14px;line-height:20px;color:#282f53;font-weight:400;white-space:nowrap;letter-spacing:0.086px;">Firefox</div>
<div style="left:1767.30px;top:1101.00px;font-size:14.5px;line-height:20px;color:#1f2549;font-weight:400;white-space:nowrap;letter-spacing:0.211px;-webkit-text-stroke:0.43px #1f2549;">14,635</div>
<div style="left:1816.40px;top:1105.00px;font-size:12px;line-height:17px;color:#09ad95;font-weight:400;white-space:nowrap;-webkit-text-stroke:0.36px #09ad95;">(</div>
<svg style="position:absolute;left:1819.60px;top:1106.69px;" width="12" height="12" viewBox="0 0 24 24" fill="none" stroke="#09ad95" stroke-width="2.2" stroke-linecap="round" stroke-linejoin="round"><line x1="12" y1="5" x2="12" y2="19"/><polyline points="19 12 12 19 5 12"/></svg>
<div style="left:1831.80px;top:1105.00px;font-size:12px;line-height:17px;color:#09ad95;font-weight:400;white-space:nowrap;letter-spacing:-0.234px;-webkit-text-stroke:0.36px #09ad95;">15.63%)</div>
<div style="position:absolute;left:1475.7px;top:1128.49px;width:399px;height:7.6px;background:#f3f4fa;border-radius:4px"></div>
<div style="position:absolute;left:1475.7px;top:1128.49px;width:199.5px;height:7.6px;background:#e82646;border-radius:4px 0 0 4px"></div>
<div style="position:absolute;left:1404.7px;top:1167.82px;width:40px;height:40px;background:#f5f5fb;border-radius:50%"></div>
<svg style="left:1415.20px;top:1177.82px" width="19" height="20" viewBox="-8 0 470 512"><path d="M454.6 243.7c0-44-7.8-84.5-28.8-122.4C384.8 47.9 312.2 8 227.2 8 87.3 7.7 8.9 113.2-5.6 227.7c42.4-61.3 117.1-121.4 220.4-125 0 0 109.7 0 99.4 105H138.4c6.4-37.4 18.5-59 34.3-78.9-75 34.9-121.8 96.1-120.8 188.3.8 71.5 50.1 144.8 120.8 172 83.4 31.8 192.8 7.2 240.1-21.3V363.4c-80.9 56.5-270.9 60.9-272.3-67.6h314.1z" fill="#0f78d4"/></svg>
<div style="left:1475.70px;top:1166.00px;font-size:14px;line-height:20px;color:#282f53;font-weight:400;white-space:nowrap;letter-spacing:-0.568px;">Edge</div>
<div style="left:1767.30px;top:1166.00px;font-size:14.5px;line-height:20px;color:#1f2549;font-weight:400;white-space:nowrap;letter-spacing:0.211px;-webkit-text-stroke:0.43px #1f2549;">15,453</div>
<div style="left:1816.40px;top:1170.00px;font-size:12px;line-height:17px;color:#e82646;font-weight:400;white-space:nowrap;-webkit-text-stroke:0.36px #e82646;">(</div>
<svg style="position:absolute;left:1819.60px;top:1171.42px;" width="12" height="12" viewBox="0 0 24 24" fill="none" stroke="#e82646" stroke-width="2.2" stroke-linecap="round" stroke-linejoin="round"><line x1="12" y1="5" x2="12" y2="19"/><polyline points="19 12 12 19 5 12"/></svg>
<div style="left:1831.80px;top:1170.00px;font-size:12px;line-height:17px;color:#e82646;font-weight:400;white-space:nowrap;letter-spacing:-0.234px;-webkit-text-stroke:0.36px #e82646;">23.70%)</div>
<div style="position:absolute;left:1475.7px;top:1193.22px;width:399px;height:7.6px;background:#f3f4fa;border-radius:4px"></div>
<div style="position:absolute;left:1475.7px;top:1193.22px;width:39.9px;height:7.6px;background:#f7b731;border-radius:4px 0 0 4px"></div>
<div style="position:absolute;left:1404.7px;top:1232.55px;width:40px;height:40px;background:#f5f5fb;border-radius:50%"></div>
<svg style="left:1414.70px;top:1242.55px" width="20" height="20" viewBox="0 0 24 24"><defs><linearGradient id="sfg" x1="0" y1="0" x2="0" y2="1"><stop offset="0" stop-color="#3fa0f4"/><stop offset="1" stop-color="#2a63d8"/></linearGradient></defs><circle cx="12" cy="12" r="11.2" fill="#d6d9e4"/><circle cx="12" cy="12" r="10" fill="url(#sfg)"/><polygon points="18.8,5.2 13.3,13.3 10.7,10.7" fill="#f04a40"/><polygon points="5.2,18.8 10.7,10.7 13.3,13.3" fill="#f4f6fa"/></svg>
<div style="left:1475.70px;top:1231.00px;font-size:14px;line-height:20px;color:#282f53;font-weight:400;white-space:nowrap;letter-spacing:-0.116px;">Safari</div>
<div style="left:1767.30px;top:1231.00px;font-size:14.5px;line-height:20px;color:#1f2549;font-weight:400;white-space:nowrap;letter-spacing:0.211px;-webkit-text-stroke:0.43px #1f2549;">10,054</div>
<div style="left:1816.40px;top:1234.00px;font-size:12px;line-height:17px;color:#09ad95;font-weight:400;white-space:nowrap;-webkit-text-stroke:0.36px #09ad95;">(</div>
<svg style="position:absolute;left:1819.60px;top:1236.15px;" width="12" height="12" viewBox="0 0 24 24" fill="none" stroke="#09ad95" stroke-width="2.2" stroke-linecap="round" stroke-linejoin="round"><line x1="12" y1="19" x2="12" y2="5"/><polyline points="5 12 12 5 19 12"/></svg>
<div style="left:1831.80px;top:1234.00px;font-size:12px;line-height:17px;color:#09ad95;font-weight:400;white-space:nowrap;letter-spacing:-0.085px;-webkit-text-stroke:0.36px #09ad95;">11.04%)</div>
<div style="position:absolute;left:1475.7px;top:1257.95px;width:399px;height:7.6px;background:#f3f4fa;border-radius:4px"></div>
<div style="position:absolute;left:1475.7px;top:1257.95px;width:159.6px;height:7.6px;background:#1170e4;border-radius:4px 0 0 4px"></div>
<div style="position:absolute;left:1404.7px;top:1297.28px;width:40px;height:40px;background:#f5f5fb;border-radius:50%"></div>
<svg style="left:1414.70px;top:1307.28px" width="20" height="20" viewBox="0 0 24 24"><defs><clipPath id="nsc"><circle cx="12" cy="12" r="11.3"/></clipPath></defs><circle cx="12" cy="12" r="11.3" fill="#0b5a63"/><g clip-path="url(#nsc)"><path d="M0 17 Q12 13.5 24 17 V24 H0Z" fill="#07151a"/><path d="M0 16.2 Q12 12.8 24 16.2 V17.4 Q12 14 0 17.4Z" fill="#dfeef0"/></g><path d="M6.8 16.2 V6.2 H9.2 L14.6 12.8 V6.2 H17 V16.2 H14.8 L9.2 9.4 V16.2Z" fill="#f2f7f7"/><circle cx="12" cy="12" r="10.9" fill="none" stroke="#0a2f36" stroke-width=".9"/></svg>
<div style="left:1475.70px;top:1295.00px;font-size:14px;line-height:20px;color:#282f53;font-weight:400;white-space:nowrap;letter-spacing:0.051px;">Netscape</div>
<div style="left:1767.30px;top:1295.00px;font-size:14.5px;line-height:20px;color:#1f2549;font-weight:400;white-space:nowrap;letter-spacing:0.211px;-webkit-text-stroke:0.43px #1f2549;">35,502</div>
<div style="left:1816.40px;top:1299.00px;font-size:12px;line-height:17px;color:#09ad95;font-weight:400;white-space:nowrap;-webkit-text-stroke:0.36px #09ad95;">(</div>
<svg style="position:absolute;left:1819.60px;top:1300.88px;" width="12" height="12" viewBox="0 0 24 24" fill="none" stroke="#09ad95" stroke-width="2.2" stroke-linecap="round" stroke-linejoin="round"><line x1="12" y1="19" x2="12" y2="5"/><polyline points="5 12 12 5 19 12"/></svg>
<div style="left:1831.80px;top:1299.00px;font-size:12px;line-height:17px;color:#09ad95;font-weight:400;white-space:nowrap;letter-spacing:-0.234px;-webkit-text-stroke:0.36px #09ad95;">12.75%)</div>
<div style="position:absolute;left:1475.7px;top:1322.68px;width:399px;height:7.6px;background:#f3f4fa;border-radius:4px"></div>
<div style="position:absolute;left:1475.7px;top:1322.68px;width:119.7px;height:7.6px;background:#1fd36e;border-radius:4px 0 0 4px"></div>
<!-- product -->
<div class="card" style="left:291px;top:1395px;width:1610px;height:202px;border-radius:7px 7px 0 0;"></div>
<div style="left:316.30px;top:1414.00px;font-size:16px;line-height:22px;color:#282f53;font-weight:400;white-space:nowrap;letter-spacing:0.066px;-webkit-text-stroke:0.26px #282f53;">Product Sales</div>
<div style="position:absolute;left:292px;top:1459px;width:1608px;height:1px;background:#e9edf4"></div>
<div style="left:1455.40px;top:1418.00px;font-size:16px;line-height:22px;color:#6c5ffc;font-weight:400;white-space:nowrap;letter-spacing:0.401px;">All products</div>
<div style="left:1584.00px;top:1418.00px;font-size:16px;line-height:22px;color:#282f53;font-weight:400;white-space:nowrap;letter-spacing:0.180px;">Shipped</div>
<div style="left:1684.40px;top:1418.00px;font-size:16px;line-height:22px;color:#282f53;font-weight:400;white-space:nowrap;letter-spacing:0.097px;">Pending</div>
<div style="left:1783.90px;top:1418.00px;font-size:16px;line-height:22px;color:#282f53;font-weight:400;white-space:nowrap;letter-spacing:0.080px;">Cancelled</div>
<div style="left:317.20px;top:1495.00px;font-size:14px;line-height:20px;color:#282f53;font-weight:400;white-space:nowrap;letter-spacing:-0.321px;">Show</div>
<div style="position:absolute;left:360.3px;top:1485.5px;width:65.4px;height:39.8px;background:#fff;border:1px solid #e9edf4;border-radius:5px"></div>
<div style="left:378.20px;top:1495.00px;font-size:14px;line-height:20px;color:#4d5875;font-weight:400;white-space:nowrap;letter-spacing:0.722px;">10</div>
<svg style="left:403.8px;top:1502.6px" width="10" height="6" viewBox="0 0 10 6"><polygon points="0,0 10,0 5,5.6" fill="#5f6683"/></svg>
<div style="left:433.80px;top:1495.00px;font-size:14px;line-height:20px;color:#282f53;font-weight:400;white-space:nowrap;letter-spacing:0.004px;">Entries</div>
<div style="position:absolute;left:1690.3px;top:1487.2px;width:184.6px;height:39px;background:#fff;border:1px solid #e9edf4;border-radius:5px"></div>
<div style="left:1704.90px;top:1499.00px;font-size:13px;line-height:18px;color:#a8afc7;font-weight:400;white-space:nowrap;letter-spacing:-0.104px;">Search...</div>
<div style="position:absolute;left:317.2px;top:1543px;width:1557.7px;height:10px;border:1px solid #e9edf4;border-bottom:0"></div>
<div style="position:absolute;left:485.5px;top:1543px;width:1px;height:10px;background:#e9edf4"></div>
<div style="position:absolute;left:782.8px;top:1543px;width:1px;height:10px;background:#e9edf4"></div>
<div style="position:absolute;left:1005.3px;top:1543px;width:1px;height:10px;background:#e9edf4"></div>
<div style="position:absolute;left:1173.5px;top:1543px;width:1px;height:10px;background:#e9edf4"></div>
<div style="position:absolute;left:1331.5px;top:1543px;width:1px;height:10px;background:#e9edf4"></div>
<div style="position:absolute;left:1552.8px;top:1543px;width:1px;height:10px;background:#e9edf4"></div>
<div style="position:absolute;left:1721.5px;top:1543px;width:1px;height:10px;background:#e9edf4"></div>
<!-- header -->
<div style="position:absolute;left:271px;top:0px;width:1649px;height:74px;background:#fff;box-shadow:0 1px 3px rgba(140,140,165,.11)"></div>
<svg style="left:298px;top:28px" width="20" height="18" viewBox="0 0 20 18" fill="none" stroke="#6c5ffc" stroke-width="2" stroke-linecap="butt"><line x1="1" y1="2.5" x2="18" y2="2.5"/><line x1="1" y1="9" x2="15" y2="9"/><line x1="1" y1="15.5" x2="18" y2="15.5"/></svg>
<div style="position:absolute;left:341px;top:16px;width:350px;height:42px;background:#fff;border:1px solid #eef0f9;border-radius:7px"></div>
<div style="left:356.00px;top:29.00px;font-size:13px;line-height:18px;color:#b8b2f3;font-weight:400;white-space:nowrap;letter-spacing:0.065px;">Search for results...</div>
<svg style="position:absolute;left:662.00px;top:28.00px;" width="15" height="15" viewBox="0 0 24 24" fill="none" stroke="#8f87fd" stroke-width="2" stroke-linecap="round" stroke-linejoin="round"><circle cx="11" cy="11" r="8"/><line x1="21" y1="21" x2="16.65" y2="16.65"/></svg>
<svg style="left:1401.5px;top:26.5px" width="21" height="21" viewBox="0 0 21 21"><defs><clipPath id="fl"><circle cx="10.5" cy="10.5" r="10"/></clipPath></defs><g clip-path="url(#fl)"><rect width="21" height="21" fill="#fdeeee"/><rect x="0" y="0.2" width="21" height="1.6" fill="#f0626a"/><rect x="0" y="3.4" width="21" height="1.6" fill="#f0626a"/><rect x="0" y="6.6" width="21" height="1.6" fill="#f0626a"/><rect x="0" y="9.8" width="21" height="1.6" fill="#f0626a"/><rect x="0" y="13" width="21" height="1.6" fill="#f0626a"/><rect x="0" y="16.2" width="21" height="1.6" fill="#f0626a"/><rect x="0" y="19.4" width="21" height="1.6" fill="#f0626a"/><rect x="0" y="0" width="10.5" height="10.8" fill="#4b5b9e"/></g></svg>
<svg style="position:absolute;left:1446.50px;top:26.60px;" width="20" height="20" viewBox="0 0 24 24" fill="none" stroke="#6c5ffc" stroke-width="2.2" stroke-linecap="round" stroke-linejoin="round"><path d="M21 12.79A9 9 0 1 1 11.21 3 7 7 0 0 0 21 12.79z"/></svg>
<svg style="position:absolute;left:1496.00px;top:28.70px;" width="20" height="20" viewBox="0 0 24 24" fill="none" stroke="#6c5ffc" stroke-width="2.2" stroke-linecap="round" stroke-linejoin="round"><circle cx="9" cy="21" r="1"/><circle cx="20" cy="21" r="1"/><path d="M1 1h4l2.68 13.39a2 2 0 0 0 2 1.61h9.72a2 2 0 0 0 2-1.61L23 6H6"/></svg>
<svg style="position:absolute;left:1543.80px;top:28.70px;" width="20" height="20" viewBox="0 0 24 24" fill="none" stroke="#6c5ffc" stroke-width="2.2" stroke-linecap="round" stroke-linejoin="round"><path d="M18 8A6 6 0 0 0 6 8c0 7-3 9-3 9h18s-3-2-3-9"/><path d="M13.73 21a2 2 0 0 1-3.46 0"/></svg>
<svg style="position:absolute;left:1593.00px;top:28.70px;" width="20" height="20" viewBox="0 0 24 24" fill="none" stroke="#6c5ffc" stroke-width="2.2" stroke-linecap="round" stroke-linejoin="round"><path d="M21 15a2 2 0 0 1-2 2H7l-4 4V5a2 2 0 0 1 2-2h14a2 2 0 0 1 2 2z"/></svg>
<svg style="position:absolute;left:1641.50px;top:28.70px;" width="20" height="20" viewBox="0 0 24 24" fill="none" stroke="#6c5ffc" stroke-width="2.2" stroke-linecap="round" stroke-linejoin="round"><path d="M8 3v3a2 2 0 0 1-2 2H3m18 0h-3a2 2 0 0 1-2-2V3m0 18v-3a2 2 0 0 1 2-2h3M3 16h3a2 2 0 0 1 2 2v3"/></svg>
<svg style="position:absolute;left:1690.50px;top:28.70px;" width="20" height="20" viewBox="0 0 24 24" fill="none" stroke="#6c5ffc" stroke-width="2.2" stroke-linecap="round" stroke-linejoin="round"><line x1="21" y1="10" x2="7" y2="10"/><line x1="21" y1="6" x2="3" y2="6"/><line x1="21" y1="14" x2="3" y2="14"/><line x1="21" y1="18" x2="7" y2="18"/></svg>
<div style="position:absolute;left:1508px;top:16px;width:14.5px;height:14.5px;background:#05c3fb;border-radius:50%"></div>
<div style="left:1515.30px;transform:translateX(-50%);top:17.00px;font-size:10px;line-height:14px;color:#fff;font-weight:400;white-space:nowrap;-webkit-text-stroke:0.30px #fff;">4</div>
<div style="position:absolute;left:1552.8px;top:18.5px;width:9.5px;height:9.5px;background:#09ad95;border-radius:50%"></div>
<div style="position:absolute;left:1601.8px;top:18.5px;width:9.5px;height:9.5px;background:#e82646;border-radius:50%"></div>
<svg style="left:1735px;top:20.7px" width="32" height="32" viewBox="0 0 32 32"><defs><clipPath id="av"><circle cx="16" cy="16" r="16"/></clipPath><filter id="avf" x="-10%" y="-10%" width="120%" height="120%"><feGaussianBlur stdDeviation="0.7"/></filter></defs><g clip-path="url(#av)"><rect width="32" height="32" fill="#f1ede3"/><g filter="url(#avf)"><ellipse cx="2" cy="12" rx="3.2" ry="4.5" fill="#cdd29a"/><path d="M24 12 L27.5 5.5 L32 14 L32 20 L25 19Z" fill="#bcb5a6"/><path d="M14 .6 C8 1 7.6 9 7.3 15 C7 21 6.5 25 5 30 L11 33 L25 33 L28 28 C25 24 24.6 19 23.6 13 C22.6 6 20 .4 14 .6Z" fill="#a8906f"/><path d="M13.5 .8 C17 .2 20.5 2.5 21.8 7 C19.5 4.5 16 4 13 5.5 C11.5 6.5 10.5 8.5 10.2 10.5 C9.6 6 10.5 2 13.5 .8Z" fill="#5e4a3c"/><path d="M20.5 17 C22 21 24.5 25 27.5 28.5 L23 33 L19 33 C20.5 28 20.8 22 20.5 17Z" fill="#6b5645"/><path d="M9.5 9 C8.6 15 8.6 22 7.2 29 L10.5 31 C11.4 24 11 16 12 10Z" fill="#bda27c"/><ellipse cx="17.2" cy="12.8" rx="4.1" ry="5.7" fill="#dcb9a6"/><path d="M13.6 10.3 C14.6 9.6 15.6 9.6 16.3 10.2 M18.2 10.2 C19 9.6 20 9.6 20.8 10.3" stroke="#6a4a40" stroke-width=".9" fill="none"/><path d="M15.9 15.6 C16.8 16.1 17.8 16.1 18.6 15.6" stroke="#b0786c" stroke-width=".9" fill="none"/><path d="M14.6 17.6 C15.2 21 14.6 24 12.8 27 L11.5 33 L22 33 L20.6 27 C19.4 24 19.2 21 19.6 17.8 C18 19.3 16 19.2 14.6 17.6Z" fill="#d3ae9a"/></g></g></svg>
<div style="left:1775.30px;top:19.00px;font-size:14px;line-height:20px;color:#282f53;font-weight:400;white-space:nowrap;letter-spacing:0.295px;-webkit-text-stroke:0.42px #282f53;">Json Taylor</div>
<div style="left:1775.30px;top:37.00px;font-size:11px;line-height:15px;color:#9ca5c4;font-weight:400;white-space:nowrap;letter-spacing:-0.136px;">Web Designer</div>
<svg style="position:absolute;left:1874.80px;top:28.30px;" width="18" height="18" viewBox="0 0 24 24" fill="none" stroke="#6c5ffc" stroke-width="2.2" stroke-linecap="round" stroke-linejoin="round"><path d="M12.00 2.35 L12.51 2.36 L13.01 2.40 L13.51 2.47 L13.90 3.05 L14.10 4.18 L14.18 5.30 L14.35 5.89 L14.66 6.02 L14.97 6.16 L15.27 6.33 L15.57 6.51 L15.85 6.70 L16.12 6.91 L16.71 6.76 L17.73 6.27 L18.80 5.87 L19.50 5.93 L19.81 6.33 L20.09 6.74 L20.36 7.17 L20.60 7.62 L20.82 8.07 L21.01 8.54 L20.71 9.17 L19.82 9.90 L18.89 10.54 L18.47 10.98 L18.51 11.32 L18.54 11.66 L18.55 12.00 L18.54 12.34 L18.51 12.68 L18.47 13.02 L18.89 13.46 L19.82 14.10 L20.71 14.83 L21.01 15.46 L20.82 15.93 L20.60 16.38 L20.36 16.82 L20.09 17.26 L19.81 17.67 L19.50 18.07 L18.80 18.13 L17.73 17.73 L16.71 17.24 L16.12 17.09 L15.85 17.30 L15.57 17.49 L15.27 17.67 L14.97 17.84 L14.66 17.98 L14.35 18.11 L14.18 18.70 L14.10 19.82 L13.90 20.95 L13.51 21.53 L13.01 21.60 L12.51 21.64 L12.00 21.65 L11.49 21.64 L10.99 21.60 L10.49 21.53 L10.10 20.95 L9.90 19.82 L9.82 18.70 L9.65 18.11 L9.34 17.98 L9.03 17.84 L8.72 17.67 L8.43 17.49 L8.15 17.30 L7.88 17.09 L7.29 17.24 L6.27 17.73 L5.20 18.13 L4.50 18.07 L4.19 17.67 L3.91 17.26 L3.64 16.83 L3.40 16.38 L3.18 15.93 L2.99 15.46 L3.29 14.83 L4.18 14.10 L5.11 13.46 L5.53 13.02 L5.49 12.68 L5.46 12.34 L5.45 12.00 L5.46 11.66 L5.49 11.32 L5.53 10.98 L5.11 10.54 L4.18 9.90 L3.29 9.17 L2.99 8.54 L3.18 8.07 L3.40 7.62 L3.64 7.17 L3.91 6.74 L4.19 6.33 L4.50 5.93 L5.20 5.87 L6.27 6.27 L7.29 6.76 L7.88 6.91 L8.15 6.70 L8.43 6.51 L8.72 6.33 L9.03 6.16 L9.34 6.02 L9.65 5.89 L9.82 5.30 L9.90 4.18 L10.10 3.05 L10.49 2.47 L10.99 2.40 L11.49 2.36Z"/><circle cx="12" cy="12" r="2.9"/></svg>
<!-- sidebar -->
<div style="position:absolute;left:0px;top:0px;width:271px;height:1551px;background:#fff;box-shadow:1px 0 0 rgba(120,120,140,.07),2px 0 4px rgba(120,120,140,.06)"></div>
<div style="position:absolute;left:0px;top:74px;width:271px;height:1px;background:#f1f1f5"></div>
<svg style="left:88px;top:18px" width="32" height="38" viewBox="0 0 32 38"><polygon points="1.2,10.5 18.7,1.9 18.7,7.9 1.2,16.5" fill="#6c5ffc"/><polygon points="1.2,18 18.7,9.65 18.7,15.6 1.2,23.9" fill="#6c5ffc"/><polygon points="2,26 8.9,22.1 8.9,30.9" fill="#6c5ffc"/><polygon points="22.4,7.9 22.4,15.9 29.4,12.6" fill="#05c3fb"/><polygon points="12.8,23 30,14.4 30,20 12.8,28.6" fill="#05c3fb"/><polygon points="12.8,30.4 30,21.8 30,28 12.8,36.9" fill="#05c3fb"/></svg>
<div style="left:127.00px;top:14.00px;font-size:30px;line-height:42px;color:#000;font-weight:400;white-space:nowrap;letter-spacing:-2.458px;font-family:'Liberation Sans',sans-serif;">sash</div>
<div style="left:30.4px;top:87px;font-size:11px;line-height:16px;font-weight:400;-webkit-text-stroke:.3px #646b89;color:#646b89;white-space:nowrap;letter-spacing:0.733px">MAIN</div>
<div style="left:30.4px;top:180px;font-size:11px;line-height:16px;font-weight:400;-webkit-text-stroke:.3px #646b89;color:#646b89;white-space:nowrap;letter-spacing:0.806px">UI KIT</div>
<div style="left:30.4px;top:372px;font-size:11px;line-height:16px;font-weight:400;-webkit-text-stroke:.3px #646b89;color:#646b89;white-space:nowrap;letter-spacing:0.227px">PRE-BUILD PAGES</div>
<div style="left:30.4px;top:565px;font-size:11px;line-height:16px;font-weight:400;-webkit-text-stroke:.3px #646b89;color:#646b89;white-space:nowrap;letter-spacing:-0.095px">GENERAL</div>
<div style="left:30.4px;top:757px;font-size:11px;line-height:16px;font-weight:400;-webkit-text-stroke:.3px #646b89;color:#646b89;white-space:nowrap;letter-spacing:0.164px">WEB APPS</div>
<div style="left:30.4px;top:850px;font-size:11px;line-height:16px;font-weight:400;-webkit-text-stroke:.3px #646b89;color:#646b89;white-space:nowrap;letter-spacing:0.083px">TABLES &amp; CHARTS</div>
<div style="left:30.4px;top:992px;font-size:11px;line-height:16px;font-weight:400;-webkit-text-stroke:.3px #646b89;color:#646b89;white-space:nowrap;letter-spacing:0.231px">MAPS &amp; ICONS</div>
<svg style="position:absolute;left:30.00px;top:122.50px;" width="18" height="18" viewBox="0 0 24 24" fill="none" stroke="#6c5ffc" stroke-width="2" stroke-linecap="round" stroke-linejoin="round"><path d="M3 9l9-7 9 7v11a2 2 0 0 1-2 2H5a2 2 0 0 1-2-2z"/><polyline points="9 22 9 12 15 12 15 22"/></svg>
<div style="left:57.20px;top:122.00px;font-size:14px;line-height:20px;color:#6c5ffc;font-weight:400;white-space:nowrap;letter-spacing:0.314px;">Dashboard</div>
<svg style="position:absolute;left:30.00px;top:214.50px;" width="18" height="18" viewBox="0 0 24 24" fill="none" stroke="#6c5ffc" stroke-width="2" stroke-linecap="round" stroke-linejoin="round"><circle cx="12" cy="12" r="10"/><line x1="7.2" y1="9.8" x2="17.2" y2="9.8"/><line x1="6.8" y1="14.2" x2="16.8" y2="14.2"/><line x1="10.6" y1="6.5" x2="9.4" y2="17.5"/><line x1="14.6" y1="6.5" x2="13.4" y2="17.5"/></svg>
<div style="left:57.20px;top:214.00px;font-size:14px;line-height:20px;color:#282f53;font-weight:400;white-space:nowrap;letter-spacing:0.431px;">Apps</div>
<svg style="position:absolute;left:238.50px;top:217.50px;" width="10" height="10" viewBox="0 0 24 24" fill="none" stroke="#4b5376" stroke-width="2.4" stroke-linecap="round" stroke-linejoin="round"><polyline points="9 18 15 12 9 6"/></svg>
<svg style="position:absolute;left:30.00px;top:264.50px;" width="18" height="18" viewBox="0 0 24 24" fill="none" stroke="#6c5ffc" stroke-width="2" stroke-linecap="round" stroke-linejoin="round"><line x1="16.5" y1="9.4" x2="7.5" y2="4.21"/><path d="M21 16V8a2 2 0 0 0-1-1.73l-7-4a2 2 0 0 0-2 0l-7 4A2 2 0 0 0 3 8v8a2 2 0 0 0 1 1.73l7 4a2 2 0 0 0 2 0l7-4A2 2 0 0 0 21 16z"/><polyline points="3.27 6.96 12 12.01 20.73 6.96"/><line x1="12" y1="22.08" x2="12" y2="12"/></svg>
<div style="left:57.20px;top:264.00px;font-size:14px;line-height:20px;color:#282f53;font-weight:400;white-space:nowrap;letter-spacing:0.575px;">UI Elements</div>
<svg style="position:absolute;left:238.50px;top:267.50px;" width="10" height="10" viewBox="0 0 24 24" fill="none" stroke="#4b5376" stroke-width="2.4" stroke-linecap="round" stroke-linejoin="round"><polyline points="9 18 15 12 9 6"/></svg>
<svg style="position:absolute;left:30.00px;top:314.50px;" width="18" height="18" viewBox="0 0 24 24" fill="none" stroke="#6c5ffc" stroke-width="2" stroke-linecap="round" stroke-linejoin="round"><polygon points="13 2 3 14 12 14 11 22 21 10 12 10 13 2"/></svg>
<div style="left:57.20px;top:314.00px;font-size:14px;line-height:20px;color:#282f53;font-weight:400;white-space:nowrap;letter-spacing:0.609px;">Utilities</div>
<svg style="position:absolute;left:238.50px;top:317.50px;" width="10" height="10" viewBox="0 0 24 24" fill="none" stroke="#4b5376" stroke-width="2.4" stroke-linecap="round" stroke-linejoin="round"><polyline points="9 18 15 12 9 6"/></svg>
<svg style="position:absolute;left:30.00px;top:407.00px;" width="18" height="18" viewBox="0 0 24 24" fill="none" stroke="#6c5ffc" stroke-width="2" stroke-linecap="round" stroke-linejoin="round"><polygon points="12 2 2 7 12 12 22 7 12 2"/><polyline points="2 17 12 22 22 17"/><polyline points="2 12 12 17 22 12"/></svg>
<div style="left:57.20px;top:406.00px;font-size:14px;line-height:20px;color:#282f53;font-weight:400;white-space:nowrap;letter-spacing:-0.176px;">Pages</div>
<svg style="position:absolute;left:238.50px;top:410.00px;" width="10" height="10" viewBox="0 0 24 24" fill="none" stroke="#4b5376" stroke-width="2.4" stroke-linecap="round" stroke-linejoin="round"><polyline points="9 18 15 12 9 6"/></svg>
<svg style="position:absolute;left:30.00px;top:457.00px;" width="18" height="18" viewBox="0 0 24 24" fill="none" stroke="#6c5ffc" stroke-width="2" stroke-linecap="round" stroke-linejoin="round"><path d="M17 21v-2a4 4 0 0 0-4-4H5a4 4 0 0 0-4 4v2"/><circle cx="9" cy="7" r="4"/><path d="M23 21v-2a4 4 0 0 0-3-3.87"/><path d="M16 3.13a4 4 0 0 1 0 7.75"/></svg>
<div style="left:57.20px;top:456.00px;font-size:14px;line-height:20px;color:#282f53;font-weight:400;white-space:nowrap;letter-spacing:0.713px;">Authentication</div>
<svg style="position:absolute;left:238.50px;top:460.00px;" width="10" height="10" viewBox="0 0 24 24" fill="none" stroke="#4b5376" stroke-width="2.4" stroke-linecap="round" stroke-linejoin="round"><polyline points="9 18 15 12 9 6"/></svg>
<svg style="position:absolute;left:30.00px;top:507.00px;" width="18" height="18" viewBox="0 0 24 24" fill="none" stroke="#6c5ffc" stroke-width="2" stroke-linecap="round" stroke-linejoin="round"><path d="M10.29 3.86L1.82 18a2 2 0 0 0 1.71 3h16.94a2 2 0 0 0 1.71-3L13.71 3.86a2 2 0 0 0-3.42 0z"/><line x1="12" y1="9" x2="12" y2="13"/><line x1="12" y1="17" x2="12.01" y2="17"/></svg>
<div style="left:57.20px;top:506.00px;font-size:14px;line-height:20px;color:#282f53;font-weight:400;white-space:nowrap;letter-spacing:0.130px;">Error Pages</div>
<svg style="position:absolute;left:238.50px;top:510.00px;" width="10" height="10" viewBox="0 0 24 24" fill="none" stroke="#4b5376" stroke-width="2.4" stroke-linecap="round" stroke-linejoin="round"><polyline points="9 18 15 12 9 6"/></svg>
<svg style="position:absolute;left:30.00px;top:599.50px;" width="18" height="18" viewBox="0 0 24 24" fill="none" stroke="#6c5ffc" stroke-width="2" stroke-linecap="round" stroke-linejoin="round"><path d="M14 2H6a2 2 0 0 0-2 2v16a2 2 0 0 0 2 2h12a2 2 0 0 0 2-2V8z"/><polyline points="14 2 14 8 20 8"/><line x1="16" y1="13" x2="8" y2="13"/><line x1="16" y1="17" x2="8" y2="17"/><polyline points="10 9 9 9 8 9"/></svg>
<div style="left:57.20px;top:599.00px;font-size:14px;line-height:20px;color:#282f53;font-weight:400;white-space:nowrap;letter-spacing:0.336px;">Forms</div>
<svg style="position:absolute;left:238.50px;top:602.50px;" width="10" height="10" viewBox="0 0 24 24" fill="none" stroke="#4b5376" stroke-width="2.4" stroke-linecap="round" stroke-linejoin="round"><polyline points="9 18 15 12 9 6"/></svg>
<svg style="position:absolute;left:30.00px;top:649.50px;" width="18" height="18" viewBox="0 0 24 24" fill="none" stroke="#6c5ffc" stroke-width="2" stroke-linecap="round" stroke-linejoin="round"><rect x="4" y="4" width="16" height="16" rx="2" ry="2"/><rect x="9" y="9" width="6" height="6"/><line x1="9" y1="1" x2="9" y2="4"/><line x1="15" y1="1" x2="15" y2="4"/><line x1="9" y1="20" x2="9" y2="23"/><line x1="15" y1="20" x2="15" y2="23"/><line x1="20" y1="9" x2="23" y2="9"/><line x1="20" y1="14" x2="23" y2="14"/><line x1="1" y1="9" x2="4" y2="9"/><line x1="1" y1="14" x2="4" y2="14"/></svg>
<div style="left:57.20px;top:649.00px;font-size:14px;line-height:20px;color:#282f53;font-weight:400;white-space:nowrap;letter-spacing:0.362px;">Advanced Ui</div>
<svg style="position:absolute;left:238.50px;top:652.50px;" width="10" height="10" viewBox="0 0 24 24" fill="none" stroke="#4b5376" stroke-width="2.4" stroke-linecap="round" stroke-linejoin="round"><polyline points="9 18 15 12 9 6"/></svg>
<svg style="position:absolute;left:30.00px;top:700.00px;" width="18" height="18" viewBox="0 0 24 24" fill="none" stroke="#6c5ffc" stroke-width="2" stroke-linecap="round" stroke-linejoin="round"><circle cx="12" cy="12" r="10"/><line x1="14.31" y1="8" x2="20.05" y2="17.94"/><line x1="9.69" y1="8" x2="21.17" y2="8"/><line x1="7.38" y1="12" x2="13.12" y2="2.06"/><line x1="9.69" y1="16" x2="3.95" y2="6.06"/><line x1="14.31" y1="16" x2="2.83" y2="16"/><line x1="16.62" y1="12" x2="10.88" y2="21.94"/></svg>
<div style="left:57.20px;top:699.00px;font-size:14px;line-height:20px;color:#282f53;font-weight:400;white-space:nowrap;letter-spacing:0.570px;">Widgets</div>
<svg style="position:absolute;left:30.00px;top:792.50px;" width="18" height="18" viewBox="0 0 24 24" fill="none" stroke="#6c5ffc" stroke-width="2" stroke-linecap="round" stroke-linejoin="round"><rect x="3" y="3" width="7" height="7"/><rect x="14" y="3" width="7" height="7"/><rect x="14" y="14" width="7" height="7"/><rect x="3" y="14" width="7" height="7"/></svg>
<div style="left:57.20px;top:792.00px;font-size:14px;line-height:20px;color:#282f53;font-weight:400;white-space:nowrap;letter-spacing:0.443px;">Nested Menu</div>
<svg style="position:absolute;left:238.50px;top:795.50px;" width="10" height="10" viewBox="0 0 24 24" fill="none" stroke="#4b5376" stroke-width="2.4" stroke-linecap="round" stroke-linejoin="round"><polyline points="9 18 15 12 9 6"/></svg>
<svg style="position:absolute;left:30.00px;top:884.50px;" width="18" height="18" viewBox="0 0 24 24" fill="none" stroke="#6c5ffc" stroke-width="2" stroke-linecap="round" stroke-linejoin="round"><rect x="3" y="3" width="18" height="18" rx="2" ry="2"/><line x1="3" y1="9" x2="21" y2="9"/><line x1="9" y1="21" x2="9" y2="9"/></svg>
<div style="left:57.20px;top:884.00px;font-size:14px;line-height:20px;color:#282f53;font-weight:400;white-space:nowrap;letter-spacing:0.506px;">Tables</div>
<svg style="position:absolute;left:238.50px;top:887.50px;" width="10" height="10" viewBox="0 0 24 24" fill="none" stroke="#4b5376" stroke-width="2.4" stroke-linecap="round" stroke-linejoin="round"><polyline points="9 18 15 12 9 6"/></svg>
<svg style="position:absolute;left:30.00px;top:934.50px;" width="18" height="18" viewBox="0 0 24 24" fill="none" stroke="#6c5ffc" stroke-width="2" stroke-linecap="round" stroke-linejoin="round"><line x1="18" y1="20" x2="18" y2="10"/><line x1="12" y1="20" x2="12" y2="4"/><line x1="6" y1="20" x2="6" y2="14"/></svg>
<div style="left:57.20px;top:934.00px;font-size:14px;line-height:20px;color:#282f53;font-weight:400;white-space:nowrap;letter-spacing:0.353px;">Charts</div>
<svg style="position:absolute;left:238.50px;top:937.50px;" width="10" height="10" viewBox="0 0 24 24" fill="none" stroke="#4b5376" stroke-width="2.4" stroke-linecap="round" stroke-linejoin="round"><polyline points="9 18 15 12 9 6"/></svg>
<svg style="position:absolute;left:30.00px;top:1027.00px;" width="18" height="18" viewBox="0 0 24 24" fill="none" stroke="#6c5ffc" stroke-width="2" stroke-linecap="round" stroke-linejoin="round"><path d="M21 10c0 7-9 13-9 13s-9-6-9-13a9 9 0 0 1 18 0z"/><circle cx="12" cy="10" r="3"/></svg>
<div style="left:57.20px;top:1026.00px;font-size:14px;line-height:20px;color:#282f53;font-weight:400;white-space:nowrap;letter-spacing:0.355px;">Maps</div>
<svg style="position:absolute;left:238.50px;top:1030.00px;" width="10" height="10" viewBox="0 0 24 24" fill="none" stroke="#4b5376" stroke-width="2.4" stroke-linecap="round" stroke-linejoin="round"><polyline points="9 18 15 12 9 6"/></svg>
<svg style="position:absolute;left:30.00px;top:1077.50px;" width="18" height="18" viewBox="0 0 24 24" fill="none" stroke="#6c5ffc" stroke-width="2" stroke-linecap="round" stroke-linejoin="round"><path d="M9.59 4.59A2 2 0 1 1 11 8H2m10.59 11.41A2 2 0 1 0 14 16H2m15.73-8.27A2.5 2.5 0 1 1 19.5 12H2"/></svg>
<div style="left:57.20px;top:1077.00px;font-size:14px;line-height:20px;color:#282f53;font-weight:400;white-space:nowrap;letter-spacing:0.758px;">Icons</div>
<div style="position:absolute;left:119px;top:700px;width:33px;height:19.5px;background:#fce9ec;border-radius:4px"></div>
<div style="left:126.40px;top:703.00px;font-size:11px;line-height:15px;color:#e82646;font-weight:400;white-space:nowrap;letter-spacing:0.438px;-webkit-text-stroke:0.33px #e82646;">Hot</div>
</div></body></html>
